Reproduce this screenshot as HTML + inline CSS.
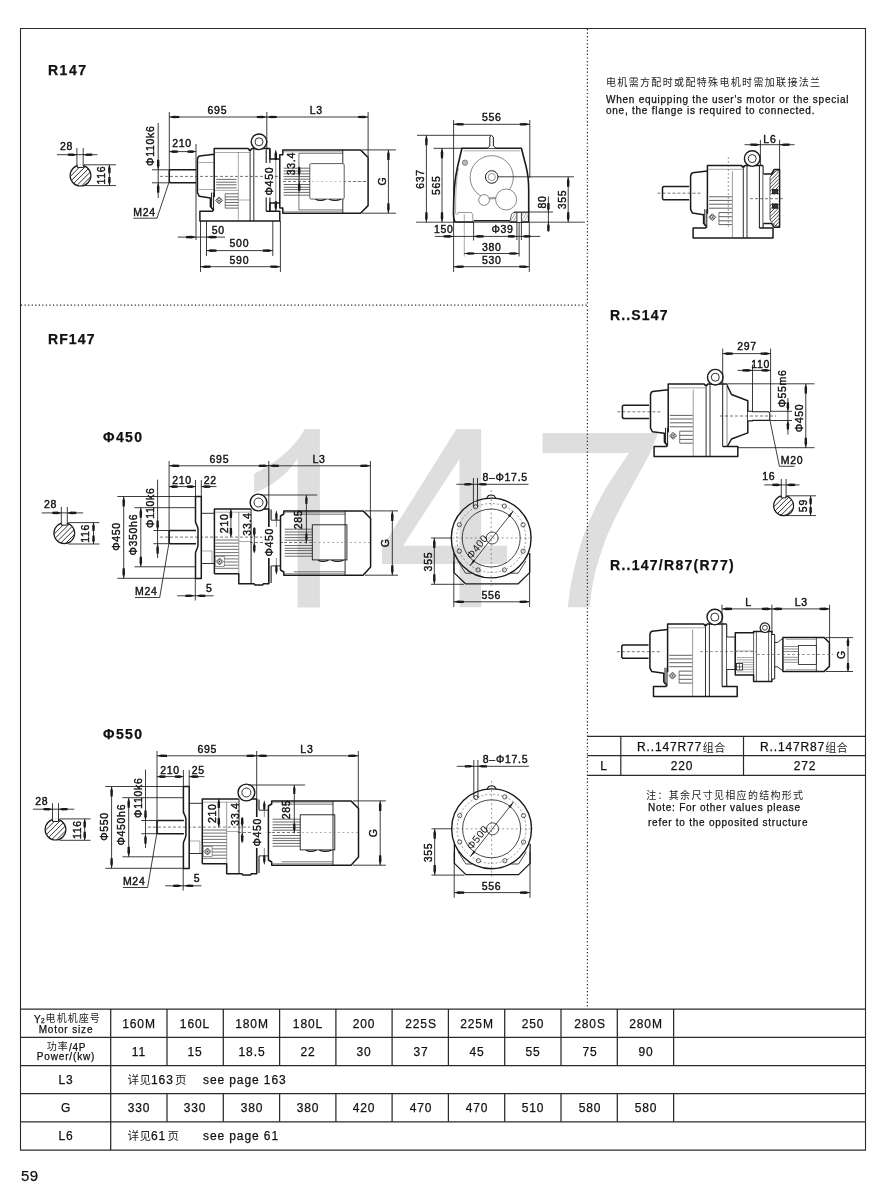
<!DOCTYPE html>
<html><head><meta charset="utf-8"><title>R147</title>
<style>
html,body{margin:0;padding:0;background:#fff;}
body{width:888px;height:1191px;position:relative;overflow:hidden;font-family:"Liberation Sans",sans-serif;color:#111;}
svg{position:absolute;left:0;top:0;will-change:transform;}
svg text{font-family:"Liberation Sans",sans-serif;}
svg text.cj{font-family:"Liberation Sans","Noto Sans CJK SC",sans-serif;}
.t{position:absolute;white-space:nowrap;line-height:1;will-change:transform;-webkit-text-stroke:0.25px #111;}
.h{font-weight:bold;font-size:14px;letter-spacing:0.9px;}
.n{font-size:10px;letter-spacing:0.75px;}
.c{font-size:12px;letter-spacing:0.9px;text-align:center;}
</style></head>
<body>
<svg width="888" height="1191" viewBox="0 0 888 1191">
<path fill="#dedede" d="M297.6,607.5 V458.3 C292,468 278,484 254.1,493.2 V474 C272,464 292,452 304.8,429 H319.9 V607.5 Z"/>
<path fill="#dedede" fill-rule="evenodd" d="M456.5,429 H481.2 V545.7 H507 V564 H481.2 V607.3 H459.5 V564 H382 V547.5 Z M459.5,459 L403,545.7 H459.5 Z"/>
<path fill="#dedede" d="M542.5,433 H657.5 L657.5,434.3 L650,453.6 L640.8,470.4 L631.5,487.2 L622.3,504 L613.9,520.8 L606.3,537.5 L600.5,554.3 L595.4,571.1 L592,587.9 L589.5,607.3 L567.7,607.3 L570.2,587.9 L573.6,571.1 L577.8,554.3 L582.8,537.5 L589.5,520.8 L597.1,504 L606.3,487.2 L617.2,470.4 L629,453.1 H542.5 Z"/>
</svg>
<svg width="888" height="1191" viewBox="0 0 888 1191">
<line x1="20.5" y1="28.5" x2="865.5" y2="28.5" stroke="#2a2a2a" stroke-width="1.1"/>
<line x1="20.5" y1="28.0" x2="20.5" y2="1150.0" stroke="#2a2a2a" stroke-width="1.1"/>
<line x1="865.5" y1="28.0" x2="865.5" y2="1150.0" stroke="#2a2a2a" stroke-width="1.1"/>
<line x1="21.0" y1="305.2" x2="587.4" y2="305.2" stroke="#222" stroke-width="1.2" stroke-dasharray="1.2 2.35"/>
<line x1="587.4" y1="29.0" x2="587.4" y2="1008.0" stroke="#222" stroke-width="1.2" stroke-dasharray="1.2 2.35"/>
<line x1="20.0" y1="1009.0" x2="866.0" y2="1009.0" stroke="#2a2a2a" stroke-width="1.25"/>
<line x1="20.0" y1="1037.3" x2="866.0" y2="1037.3" stroke="#2a2a2a" stroke-width="1.25"/>
<line x1="20.0" y1="1065.5" x2="866.0" y2="1065.5" stroke="#2a2a2a" stroke-width="1.25"/>
<line x1="20.0" y1="1093.5" x2="866.0" y2="1093.5" stroke="#2a2a2a" stroke-width="1.25"/>
<line x1="20.0" y1="1121.8" x2="866.0" y2="1121.8" stroke="#2a2a2a" stroke-width="1.25"/>
<line x1="20.0" y1="1150.0" x2="866.0" y2="1150.0" stroke="#2a2a2a" stroke-width="1.25"/>
<line x1="110.7" y1="1009.0" x2="110.7" y2="1150.0" stroke="#2a2a2a" stroke-width="1.25"/>
<line x1="167.0" y1="1009.0" x2="167.0" y2="1065.5" stroke="#2a2a2a" stroke-width="1.25"/>
<line x1="167.0" y1="1093.5" x2="167.0" y2="1121.8" stroke="#2a2a2a" stroke-width="1.25"/>
<line x1="223.3" y1="1009.0" x2="223.3" y2="1065.5" stroke="#2a2a2a" stroke-width="1.25"/>
<line x1="223.3" y1="1093.5" x2="223.3" y2="1121.8" stroke="#2a2a2a" stroke-width="1.25"/>
<line x1="279.6" y1="1009.0" x2="279.6" y2="1065.5" stroke="#2a2a2a" stroke-width="1.25"/>
<line x1="279.6" y1="1093.5" x2="279.6" y2="1121.8" stroke="#2a2a2a" stroke-width="1.25"/>
<line x1="335.9" y1="1009.0" x2="335.9" y2="1065.5" stroke="#2a2a2a" stroke-width="1.25"/>
<line x1="335.9" y1="1093.5" x2="335.9" y2="1121.8" stroke="#2a2a2a" stroke-width="1.25"/>
<line x1="392.1" y1="1009.0" x2="392.1" y2="1065.5" stroke="#2a2a2a" stroke-width="1.25"/>
<line x1="392.1" y1="1093.5" x2="392.1" y2="1121.8" stroke="#2a2a2a" stroke-width="1.25"/>
<line x1="448.4" y1="1009.0" x2="448.4" y2="1065.5" stroke="#2a2a2a" stroke-width="1.25"/>
<line x1="448.4" y1="1093.5" x2="448.4" y2="1121.8" stroke="#2a2a2a" stroke-width="1.25"/>
<line x1="504.7" y1="1009.0" x2="504.7" y2="1065.5" stroke="#2a2a2a" stroke-width="1.25"/>
<line x1="504.7" y1="1093.5" x2="504.7" y2="1121.8" stroke="#2a2a2a" stroke-width="1.25"/>
<line x1="561.0" y1="1009.0" x2="561.0" y2="1065.5" stroke="#2a2a2a" stroke-width="1.25"/>
<line x1="561.0" y1="1093.5" x2="561.0" y2="1121.8" stroke="#2a2a2a" stroke-width="1.25"/>
<line x1="617.3" y1="1009.0" x2="617.3" y2="1065.5" stroke="#2a2a2a" stroke-width="1.25"/>
<line x1="617.3" y1="1093.5" x2="617.3" y2="1121.8" stroke="#2a2a2a" stroke-width="1.25"/>
<line x1="673.6" y1="1009.0" x2="673.6" y2="1065.5" stroke="#2a2a2a" stroke-width="1.25"/>
<line x1="673.6" y1="1093.5" x2="673.6" y2="1121.8" stroke="#2a2a2a" stroke-width="1.25"/>
<text class="cj" x="45.6" y="1021.9" font-size="10" letter-spacing="1.05" fill="#222">电机机座号</text>
<text class="cj" x="46.8" y="1050.1" font-size="10" letter-spacing="1.0" fill="#222">功率</text>
<text class="cj" x="127.6" y="1083.8" font-size="11.5" letter-spacing="0.5" fill="#222">详见</text>
<text class="cj" x="175.1" y="1083.8" font-size="11.5" fill="#222">页</text>
<text class="cj" x="127.6" y="1140.1" font-size="11.5" letter-spacing="0.5" fill="#222">详见</text>
<text class="cj" x="167.5" y="1140.1" font-size="11.5" fill="#222">页</text>
<text class="cj" x="606.0" y="86.2" font-size="10" letter-spacing="1.34" fill="#222">电机需方配时或配特殊电机时需加联接法兰</text>
<line x1="587.4" y1="736.3" x2="866.0" y2="736.3" stroke="#2a2a2a" stroke-width="1.2"/>
<line x1="587.4" y1="755.7" x2="866.0" y2="755.7" stroke="#2a2a2a" stroke-width="1.2"/>
<line x1="587.4" y1="775.4" x2="866.0" y2="775.4" stroke="#2a2a2a" stroke-width="1.2"/>
<line x1="620.8" y1="736.3" x2="620.8" y2="775.4" stroke="#2a2a2a" stroke-width="1.2"/>
<line x1="743.5" y1="736.3" x2="743.5" y2="775.4" stroke="#2a2a2a" stroke-width="1.2"/>
<text class="cj" x="702.7" y="751.5" font-size="11" letter-spacing="0.5" fill="#222">组合</text>
<text class="cj" x="825.3" y="751.5" font-size="11" letter-spacing="0.5" fill="#222">组合</text>
<text class="cj" x="646.2" y="799.0" font-size="10" letter-spacing="1.3" fill="#222">注：其余尺寸见相应的结构形式</text>
<clipPath id="c80_175"><circle cx="80.5" cy="175.6" r="10.4"/></clipPath>
<g clip-path="url(#c80_175)" stroke="#1a1a1a" stroke-width="0.9"><line x1="50.3" y1="186.0" x2="71.1" y2="165.2"/><line x1="55.5" y1="186.0" x2="76.3" y2="165.2"/><line x1="60.7" y1="186.0" x2="81.5" y2="165.2"/><line x1="65.9" y1="186.0" x2="86.7" y2="165.2"/><line x1="71.1" y1="186.0" x2="91.9" y2="165.2"/><line x1="76.3" y1="186.0" x2="97.1" y2="165.2"/><line x1="81.5" y1="186.0" x2="102.3" y2="165.2"/><line x1="86.7" y1="186.0" x2="107.5" y2="165.2"/></g>
<circle cx="80.5" cy="175.6" r="10.4" fill="none" stroke="#1a1a1a" stroke-width="1.2"/>
<rect x="77.3" y="164.2" width="6.3" height="3.2" fill="#fff"/>
<path d="M77.3,165.5 L77.3,167.4 L83.7,167.4 L83.7,165.5" fill="none" stroke="#1a1a1a" stroke-width="1.0" stroke-linejoin="round"/>
<line x1="76.9" y1="148.0" x2="76.9" y2="166.0" stroke="#1a1a1a" stroke-width="0.85"/>
<line x1="83.2" y1="148.0" x2="83.2" y2="166.0" stroke="#1a1a1a" stroke-width="0.85"/>
<line x1="57.0" y1="154.7" x2="97.4" y2="154.7" stroke="#1a1a1a" stroke-width="0.85"/>
<polygon points="76.9,154.7 73.1,153.4 67.9,153.6 67.9,155.8 73.1,156.0" fill="#1a1a1a"/>
<polygon points="83.2,154.7 87.0,153.4 92.2,153.6 92.2,155.8 87.0,156.0" fill="#1a1a1a"/>
<text x="66.5" y="150.3" font-size="10.5" text-anchor="middle" letter-spacing="0.7" fill="#111" stroke="#111" stroke-width="0.4">28</text>
<line x1="84.0" y1="164.8" x2="116.0" y2="164.8" stroke="#1a1a1a" stroke-width="0.85"/>
<line x1="84.0" y1="185.6" x2="116.0" y2="185.6" stroke="#1a1a1a" stroke-width="0.85"/>
<line x1="109.4" y1="164.8" x2="109.4" y2="185.6" stroke="#1a1a1a" stroke-width="0.85"/>
<polygon points="109.4,164.8 108.1,168.4 108.3,173.3 110.5,173.3 110.7,168.4" fill="#1a1a1a"/>
<polygon points="109.4,185.6 108.1,182.0 108.3,177.1 110.5,177.1 110.7,182.0" fill="#1a1a1a"/>
<text x="105.3" y="175.0" font-size="10.5" text-anchor="middle" letter-spacing="0.7" fill="#111" stroke="#111" stroke-width="0.4" transform="rotate(-90 105.3 175.0)">116</text>
<line x1="169.3" y1="112.0" x2="169.3" y2="183.0" stroke="#1a1a1a" stroke-width="0.85"/>
<line x1="266.8" y1="112.0" x2="266.8" y2="150.0" stroke="#1a1a1a" stroke-width="0.85"/>
<line x1="368.1" y1="112.0" x2="368.1" y2="157.0" stroke="#1a1a1a" stroke-width="0.85"/>
<line x1="169.3" y1="117.0" x2="266.8" y2="117.0" stroke="#1a1a1a" stroke-width="0.85"/>
<polygon points="169.3,117.0 173.5,115.7 179.3,115.9 179.3,118.1 173.5,118.3" fill="#1a1a1a"/>
<polygon points="266.8,117.0 262.6,115.7 256.8,115.9 256.8,118.1 262.6,118.3" fill="#1a1a1a"/>
<line x1="266.8" y1="117.0" x2="368.1" y2="117.0" stroke="#1a1a1a" stroke-width="0.85"/>
<polygon points="266.8,117.0 271.0,115.7 276.8,115.9 276.8,118.1 271.0,118.3" fill="#1a1a1a"/>
<polygon points="368.1,117.0 363.9,115.7 358.1,115.9 358.1,118.1 363.9,118.3" fill="#1a1a1a"/>
<text x="217.4" y="113.6" font-size="10.5" text-anchor="middle" letter-spacing="0.7" fill="#111" stroke="#111" stroke-width="0.4">695</text>
<text x="316.3" y="113.6" font-size="10.5" text-anchor="middle" letter-spacing="0.7" fill="#111" stroke="#111" stroke-width="0.4">L3</text>
<line x1="196.0" y1="144.0" x2="196.0" y2="240.0" stroke="#1a1a1a" stroke-width="0.85"/>
<line x1="169.3" y1="151.6" x2="196.0" y2="151.6" stroke="#1a1a1a" stroke-width="0.85"/>
<polygon points="169.3,151.6 172.9,150.3 177.8,150.5 177.8,152.7 172.9,152.9" fill="#1a1a1a"/>
<polygon points="196.0,151.6 192.4,150.3 187.5,150.5 187.5,152.7 192.4,152.9" fill="#1a1a1a"/>
<text x="182.0" y="146.6" font-size="10.5" text-anchor="middle" letter-spacing="0.7" fill="#111" stroke="#111" stroke-width="0.4">210</text>
<path d="M196.0,169.8 L170.3,169.8 L169.3,170.8 L169.3,181.8 L170.3,182.8 L196.0,182.8" fill="none" stroke="#1a1a1a" stroke-width="1.5" stroke-linejoin="round"/>
<line x1="160.0" y1="176.4" x2="284.0" y2="176.4" stroke="#1a1a1a" stroke-width="0.6" stroke-dasharray="3 2"/>
<line x1="152.0" y1="169.8" x2="169.3" y2="169.8" stroke="#1a1a1a" stroke-width="0.85"/>
<line x1="152.0" y1="182.8" x2="169.3" y2="182.8" stroke="#1a1a1a" stroke-width="0.85"/>
<line x1="158.2" y1="123.0" x2="158.2" y2="198.0" stroke="#1a1a1a" stroke-width="0.85"/>
<polygon points="158.2,169.8 156.9,165.6 157.1,159.8 159.3,159.8 159.5,165.6" fill="#1a1a1a"/>
<polygon points="158.2,182.8 156.9,187.0 157.1,192.8 159.3,192.8 159.5,187.0" fill="#1a1a1a"/>
<text x="154.2" y="145.7" font-size="10.5" text-anchor="middle" letter-spacing="0.7" fill="#111" stroke="#111" stroke-width="0.4" transform="rotate(-90 154.2 145.7)">&#934;110k6</text>
<text x="133.3" y="216.2" font-size="10.5" text-anchor="start" letter-spacing="0.7" fill="#111" stroke="#111" stroke-width="0.4">M24</text>
<path d="M133.3,218.2 L157.0,218.2 L168.9,182.5" fill="none" stroke="#1a1a1a" stroke-width="0.85" stroke-linejoin="round"/>
<path d="M214.2,154.3 L199.5,156 Q197.6,156.5 197.4,159.7 L197.4,192.6 L199.3,196.3 L210.4,197.9 L210.4,206.7 L212.9,209 L212.9,211.2" fill="none" stroke="#1a1a1a" stroke-width="1.5" stroke-linejoin="round"/>
<path d="M214.2,197 L214.2,148.6 L248.2,148.6 L249.4,150.2 L250.6,150.2 L251.9,148.6 L269.9,148.6 L269.9,159.1 L279.8,159.1" fill="none" stroke="#1a1a1a" stroke-width="1.5" stroke-linejoin="round"/>
<circle cx="259.0" cy="141.8" r="7.8" fill="#fff" stroke="#1a1a1a" stroke-width="1.4"/>
<circle cx="259.0" cy="141.8" r="4.0" fill="none" stroke="#1a1a1a" stroke-width="0.9"/>
<line x1="250.1" y1="148.6" x2="250.1" y2="221.0" stroke="#1a1a1a" stroke-width="0.9"/>
<line x1="253.8" y1="148.6" x2="253.8" y2="221.0" stroke="#1a1a1a" stroke-width="0.9"/>
<line x1="238.3" y1="152.0" x2="238.3" y2="220.5" stroke="#555" stroke-width="0.5"/>
<line x1="214.2" y1="152.5" x2="249.5" y2="152.5" stroke="#555" stroke-width="0.5"/>
<line x1="266.2" y1="150.0" x2="266.2" y2="163.0" stroke="#1a1a1a" stroke-width="1.1"/>
<line x1="266.2" y1="197.5" x2="266.2" y2="211.2" stroke="#1a1a1a" stroke-width="1.1"/>
<line x1="269.9" y1="150.0" x2="269.9" y2="163.0" stroke="#1a1a1a" stroke-width="1.1"/>
<line x1="269.9" y1="197.5" x2="269.9" y2="211.2" stroke="#1a1a1a" stroke-width="1.1"/>
<path d="M269.9,211.2 L269.9,203.1 L279.8,203.1" fill="none" stroke="#1a1a1a" stroke-width="1.5" stroke-linejoin="round"/>
<path d="M212.9,211.2 L199.9,211.2 L199.9,221.1 L279.8,221.1 L279.8,211.2 L266.2,211.2" fill="none" stroke="#1a1a1a" stroke-width="1.5" stroke-linejoin="round"/>
<line x1="211.6" y1="192.5" x2="211.6" y2="209.0" stroke="#1a1a1a" stroke-width="1.0"/>
<line x1="213.6" y1="192.5" x2="213.6" y2="211.0" stroke="#1a1a1a" stroke-width="1.0"/>
<line x1="216.2" y1="179.4" x2="236.5" y2="179.4" stroke="#444" stroke-width="0.8"/>
<line x1="216.2" y1="182.2" x2="236.5" y2="182.2" stroke="#444" stroke-width="0.8"/>
<line x1="216.2" y1="184.8" x2="236.5" y2="184.8" stroke="#444" stroke-width="0.8"/>
<line x1="216.2" y1="187.9" x2="236.5" y2="187.9" stroke="#444" stroke-width="0.8"/>
<line x1="225.2" y1="193.8" x2="225.2" y2="208.1" stroke="#444" stroke-width="0.7"/>
<line x1="225.2" y1="193.8" x2="238.3" y2="193.8" stroke="#444" stroke-width="0.8"/>
<line x1="225.2" y1="196.9" x2="238.3" y2="196.9" stroke="#444" stroke-width="0.8"/>
<line x1="225.2" y1="199.7" x2="238.3" y2="199.7" stroke="#444" stroke-width="0.8"/>
<line x1="225.2" y1="202.5" x2="238.3" y2="202.5" stroke="#444" stroke-width="0.8"/>
<line x1="225.2" y1="205.3" x2="238.3" y2="205.3" stroke="#444" stroke-width="0.8"/>
<line x1="225.2" y1="208.1" x2="238.3" y2="208.1" stroke="#444" stroke-width="0.8"/>
<line x1="215.0" y1="190.4" x2="238.0" y2="190.4" stroke="#555" stroke-width="0.5"/>
<line x1="238.3" y1="200.0" x2="250.0" y2="200.0" stroke="#555" stroke-width="0.5"/>
<path d="M215.6,200.4 L219.1,196.9 L222.6,200.4 L219.1,203.9 Z" fill="none" stroke="#1a1a1a" stroke-width="0.7" stroke-linejoin="round"/>
<circle cx="219.1" cy="200.4" r="1.9" fill="none" stroke="#1a1a1a" stroke-width="0.6"/>
<circle cx="219.1" cy="200.4" r="0.5" fill="#333" stroke="#1a1a1a" stroke-width="0.5"/>
<path d="M279.8,154.8 L282.8,154.8 L282.8,149.9 L360.5,149.9 L368.1,157.5 L368.1,205.6 L360.5,213.2 L282.8,213.2 L282.8,208.0 L279.8,208.0 Z" fill="#fff" stroke="#1a1a1a" stroke-width="1.5" stroke-linejoin="round"/>
<line x1="342.8" y1="149.9" x2="342.8" y2="213.2" stroke="#1a1a1a" stroke-width="0.9"/>
<line x1="298.9" y1="153.3" x2="342.8" y2="153.3" stroke="#1a1a1a" stroke-width="0.6"/>
<line x1="298.9" y1="209.9" x2="342.8" y2="209.9" stroke="#1a1a1a" stroke-width="0.6"/>
<line x1="298.9" y1="153.3" x2="298.9" y2="209.9" stroke="#1a1a1a" stroke-width="0.6"/>
<line x1="283.0" y1="151.8" x2="342.8" y2="151.8" stroke="#555" stroke-width="0.5"/>
<line x1="283.0" y1="211.4" x2="342.8" y2="211.4" stroke="#555" stroke-width="0.5"/>
<line x1="283.6" y1="168.2" x2="309.8" y2="168.2" stroke="#444" stroke-width="0.8"/>
<line x1="283.6" y1="171.0" x2="309.8" y2="171.0" stroke="#444" stroke-width="0.8"/>
<line x1="283.6" y1="173.8" x2="309.8" y2="173.8" stroke="#444" stroke-width="0.8"/>
<line x1="283.6" y1="176.6" x2="309.8" y2="176.6" stroke="#444" stroke-width="0.8"/>
<line x1="283.6" y1="179.2" x2="309.8" y2="179.2" stroke="#444" stroke-width="0.8"/>
<line x1="283.6" y1="184.5" x2="309.8" y2="184.5" stroke="#444" stroke-width="0.8"/>
<line x1="283.6" y1="187.3" x2="309.8" y2="187.3" stroke="#444" stroke-width="0.8"/>
<line x1="283.6" y1="189.6" x2="309.8" y2="189.6" stroke="#444" stroke-width="0.8"/>
<line x1="283.6" y1="192.4" x2="309.8" y2="192.4" stroke="#444" stroke-width="0.8"/>
<line x1="283.6" y1="195.2" x2="309.8" y2="195.2" stroke="#444" stroke-width="0.8"/>
<path d="M315.5,199.3 Q320,201.6 326,199.3 M329,199.3 Q335,201.6 341,199.3" fill="none" stroke="#1a1a1a" stroke-width="1.1" stroke-linejoin="round"/>
<line x1="198.8" y1="162.5" x2="214.0" y2="162.5" stroke="#555" stroke-width="0.5"/>
<line x1="198.8" y1="189.5" x2="214.0" y2="189.5" stroke="#555" stroke-width="0.5"/>
<line x1="283.0" y1="181.5" x2="366.0" y2="181.5" stroke="#1a1a1a" stroke-width="0.6" stroke-dasharray="3 2"/>
<rect x="309.8" y="163.6" width="34.4" height="35.5" rx="1.5" fill="#fff" stroke="#333" stroke-width="0.8"/>
<line x1="312.0" y1="181.5" x2="366.0" y2="181.5" stroke="#888" stroke-width="0.5" stroke-dasharray="2 2.5"/>
<text x="294.8" y="163.6" font-size="10.5" text-anchor="middle" letter-spacing="0.7" fill="#111" stroke="#111" stroke-width="0.4" transform="rotate(-90 294.8 163.6)">33.4</text>
<line x1="299.2" y1="166.5" x2="299.2" y2="192.0" stroke="#1a1a1a" stroke-width="0.6"/>
<polygon points="299.2,176.2 297.9,172.4 298.1,167.2 300.3,167.2 300.5,172.4" fill="#1a1a1a"/>
<polygon points="299.2,181.7 297.9,185.5 298.1,190.7 300.3,190.7 300.5,185.5" fill="#1a1a1a"/>
<line x1="275.8" y1="149.9" x2="275.8" y2="211.2" stroke="#1a1a1a" stroke-width="0.5"/>
<polygon points="275.8,149.9 274.5,154.1 274.7,159.9 276.9,159.9 277.1,154.1" fill="#1a1a1a"/>
<polygon points="275.8,211.2 274.5,207.0 274.7,201.2 276.9,201.2 277.1,207.0" fill="#1a1a1a"/>
<rect x="264.5" y="166" width="9.5" height="30" fill="#fff"/>
<text x="272.8" y="181.1" font-size="10.5" text-anchor="middle" letter-spacing="0.7" fill="#111" stroke="#111" stroke-width="0.4" transform="rotate(-90 272.8 181.1)">&#934;450</text>
<line x1="362.0" y1="149.9" x2="396.0" y2="149.9" stroke="#1a1a1a" stroke-width="0.85"/>
<line x1="362.0" y1="213.2" x2="396.0" y2="213.2" stroke="#1a1a1a" stroke-width="0.85"/>
<line x1="388.4" y1="149.9" x2="388.4" y2="213.2" stroke="#1a1a1a" stroke-width="0.85"/>
<polygon points="388.4,149.9 387.1,154.1 387.3,159.9 389.5,159.9 389.7,154.1" fill="#1a1a1a"/>
<polygon points="388.4,213.2 387.1,209.0 387.3,203.2 389.5,203.2 389.7,209.0" fill="#1a1a1a"/>
<text x="385.7" y="181.1" font-size="10.5" text-anchor="middle" letter-spacing="0.7" fill="#111" stroke="#111" stroke-width="0.4" transform="rotate(-90 385.7 181.1)">G</text>
<line x1="206.5" y1="221.0" x2="206.5" y2="256.0" stroke="#1a1a1a" stroke-width="0.85"/>
<line x1="272.8" y1="221.0" x2="272.8" y2="256.0" stroke="#1a1a1a" stroke-width="0.85"/>
<line x1="200.5" y1="221.0" x2="200.5" y2="272.0" stroke="#1a1a1a" stroke-width="0.85"/>
<line x1="280.4" y1="221.0" x2="280.4" y2="272.0" stroke="#1a1a1a" stroke-width="0.85"/>
<line x1="177.7" y1="237.1" x2="225.0" y2="237.1" stroke="#1a1a1a" stroke-width="0.85"/>
<polygon points="196.0,237.1 191.8,235.8 186.0,236.0 186.0,238.2 191.8,238.4" fill="#1a1a1a"/>
<polygon points="206.5,237.1 210.7,235.8 216.5,236.0 216.5,238.2 210.7,238.4" fill="#1a1a1a"/>
<text x="218.3" y="234.0" font-size="10.5" text-anchor="middle" letter-spacing="0.7" fill="#111" stroke="#111" stroke-width="0.4">50</text>
<line x1="206.5" y1="250.6" x2="272.8" y2="250.6" stroke="#1a1a1a" stroke-width="0.85"/>
<polygon points="206.5,250.6 210.7,249.3 216.5,249.5 216.5,251.7 210.7,251.9" fill="#1a1a1a"/>
<polygon points="272.8,250.6 268.6,249.3 262.8,249.5 262.8,251.7 268.6,251.9" fill="#1a1a1a"/>
<text x="239.4" y="247.2" font-size="10.5" text-anchor="middle" letter-spacing="0.7" fill="#111" stroke="#111" stroke-width="0.4">500</text>
<line x1="200.5" y1="266.7" x2="280.4" y2="266.7" stroke="#1a1a1a" stroke-width="0.85"/>
<polygon points="200.5,266.7 204.7,265.4 210.5,265.6 210.5,267.8 204.7,268.0" fill="#1a1a1a"/>
<polygon points="280.4,266.7 276.2,265.4 270.4,265.6 270.4,267.8 276.2,268.0" fill="#1a1a1a"/>
<text x="239.4" y="263.6" font-size="10.5" text-anchor="middle" letter-spacing="0.7" fill="#111" stroke="#111" stroke-width="0.4">590</text>
<line x1="453.6" y1="120.0" x2="453.6" y2="272.0" stroke="#1a1a1a" stroke-width="0.85"/>
<line x1="529.8" y1="120.0" x2="529.8" y2="178.0" stroke="#1a1a1a" stroke-width="0.85"/>
<line x1="529.3" y1="222.0" x2="529.3" y2="272.0" stroke="#1a1a1a" stroke-width="0.85"/>
<line x1="453.6" y1="124.3" x2="529.8" y2="124.3" stroke="#1a1a1a" stroke-width="0.85"/>
<polygon points="453.6,124.3 457.8,123.0 463.6,123.2 463.6,125.4 457.8,125.6" fill="#1a1a1a"/>
<polygon points="529.8,124.3 525.6,123.0 519.8,123.2 519.8,125.4 525.6,125.6" fill="#1a1a1a"/>
<text x="491.7" y="120.7" font-size="10.5" text-anchor="middle" letter-spacing="0.7" fill="#111" stroke="#111" stroke-width="0.4">556</text>
<line x1="417.0" y1="135.3" x2="491.0" y2="135.3" stroke="#1a1a1a" stroke-width="0.85"/>
<line x1="433.5" y1="148.3" x2="462.0" y2="148.3" stroke="#1a1a1a" stroke-width="0.85"/>
<line x1="416.0" y1="222.2" x2="585.0" y2="222.2" stroke="#1a1a1a" stroke-width="0.8"/>
<line x1="426.4" y1="135.3" x2="426.4" y2="222.2" stroke="#1a1a1a" stroke-width="0.85"/>
<polygon points="426.4,135.3 425.1,139.5 425.3,145.3 427.5,145.3 427.7,139.5" fill="#1a1a1a"/>
<polygon points="426.4,222.2 425.1,218.0 425.3,212.2 427.5,212.2 427.7,218.0" fill="#1a1a1a"/>
<text x="423.8" y="179.0" font-size="10.5" text-anchor="middle" letter-spacing="0.7" fill="#111" stroke="#111" stroke-width="0.4" transform="rotate(-90 423.8 179.0)">637</text>
<line x1="442.0" y1="148.3" x2="442.0" y2="222.2" stroke="#1a1a1a" stroke-width="0.85"/>
<polygon points="442.0,148.3 440.7,152.5 440.9,158.3 443.1,158.3 443.3,152.5" fill="#1a1a1a"/>
<polygon points="442.0,222.2 440.7,218.0 440.9,212.2 443.1,212.2 443.3,218.0" fill="#1a1a1a"/>
<text x="440.0" y="185.3" font-size="10.5" text-anchor="middle" letter-spacing="0.7" fill="#111" stroke="#111" stroke-width="0.4" transform="rotate(-90 440.0 185.3)">565</text>
<path d="M454.9,222 C453.4,219 453.4,216 453.5,212 C453.5,196 454.5,180 457.5,167 L461.9,148.3 L521.4,148.3 L526.2,167 C528.4,176 528.7,180 528.7,190 L528.7,222" fill="none" stroke="#1a1a1a" stroke-width="1.6" stroke-linejoin="round"/>
<line x1="473.6" y1="220.8" x2="509.7" y2="220.8" stroke="#1a1a1a" stroke-width="1.4"/>
<line x1="454.9" y1="222.0" x2="473.6" y2="222.0" stroke="#1a1a1a" stroke-width="1.4"/>
<line x1="509.7" y1="222.0" x2="528.7" y2="222.0" stroke="#1a1a1a" stroke-width="1.4"/>
<line x1="463.2" y1="150.8" x2="520.2" y2="150.8" stroke="#555" stroke-width="0.5"/>
<path d="M458.5,168 C456,180 455.6,196 455.6,214" fill="none" stroke="#555" stroke-width="0.5" stroke-linejoin="round"/>
<path d="M487.2,148.3 L489.8,146 L489.8,137 Q491.6,134 493.4,137 L493.4,146 L496.2,148.3" fill="#fff" stroke="#1a1a1a" stroke-width="1.0" stroke-linejoin="round"/>
<circle cx="491.7" cy="177.3" r="21.6" fill="none" stroke="#555" stroke-width="0.7"/>
<circle cx="491.7" cy="177.0" r="6.3" fill="none" stroke="#1a1a1a" stroke-width="1.0"/>
<circle cx="491.7" cy="177.0" r="3.6" fill="none" stroke="#555" stroke-width="0.6"/>
<circle cx="484.1" cy="200.0" r="5.4" fill="#fff" stroke="#555" stroke-width="0.7"/>
<circle cx="506.1" cy="199.5" r="10.5" fill="#fff" stroke="#555" stroke-width="0.7"/>
<line x1="489.5" y1="197.6" x2="495.6" y2="197.6" stroke="#555" stroke-width="0.6"/>
<circle cx="465.0" cy="162.7" r="2.7" fill="#bbb" stroke="#555" stroke-width="0.6"/>
<path d="M456.7,215.0 L458.0,212.5 L471.5,212.5 L472.8,215.0 L472.8,222.0" fill="none" stroke="#555" stroke-width="0.6" stroke-linejoin="round"/>
<line x1="464.3" y1="214.0" x2="464.3" y2="256.5" stroke="#555" stroke-width="0.5"/>
<path d="M509.7,222.0 L511.5,214.5 L513.0,212.6 L528.6,212.6" fill="none" stroke="#1a1a1a" stroke-width="0.7" stroke-linejoin="round"/>
<line x1="510.5" y1="221.5" x2="515.0" y2="213.2" stroke="#555" stroke-width="0.5"/>
<line x1="513.3" y1="221.5" x2="517.8" y2="213.2" stroke="#555" stroke-width="0.5"/>
<line x1="516.1" y1="221.5" x2="520.6" y2="213.2" stroke="#555" stroke-width="0.5"/>
<line x1="518.9" y1="221.5" x2="523.4" y2="213.2" stroke="#555" stroke-width="0.5"/>
<line x1="521.7" y1="221.5" x2="526.2" y2="213.2" stroke="#555" stroke-width="0.5"/>
<line x1="524.5" y1="221.5" x2="529.0" y2="213.2" stroke="#555" stroke-width="0.5"/>
<rect x="516.9" y="213" width="4.5" height="9" fill="#fff"/>
<line x1="516.9" y1="213.0" x2="516.9" y2="240.0" stroke="#1a1a1a" stroke-width="0.85"/>
<line x1="521.4" y1="213.0" x2="521.4" y2="240.0" stroke="#1a1a1a" stroke-width="0.85"/>
<line x1="498.0" y1="176.8" x2="574.0" y2="176.8" stroke="#1a1a1a" stroke-width="0.85"/>
<line x1="568.2" y1="176.8" x2="568.2" y2="222.2" stroke="#1a1a1a" stroke-width="0.85"/>
<polygon points="568.2,176.8 566.9,181.0 567.1,186.8 569.3,186.8 569.5,181.0" fill="#1a1a1a"/>
<polygon points="568.2,222.2 566.9,218.0 567.1,212.2 569.3,212.2 569.5,218.0" fill="#1a1a1a"/>
<text x="565.6" y="199.5" font-size="10.5" text-anchor="middle" letter-spacing="0.7" fill="#111" stroke="#111" stroke-width="0.4" transform="rotate(-90 565.6 199.5)">355</text>
<line x1="514.0" y1="212.0" x2="553.0" y2="212.0" stroke="#1a1a1a" stroke-width="0.85"/>
<line x1="548.4" y1="196.4" x2="548.4" y2="231.5" stroke="#1a1a1a" stroke-width="0.85"/>
<polygon points="548.4,212.0 547.1,208.2 547.3,203.0 549.5,203.0 549.7,208.2" fill="#1a1a1a"/>
<polygon points="548.4,222.2 547.1,226.0 547.3,231.2 549.5,231.2 549.7,226.0" fill="#1a1a1a"/>
<text x="546.1" y="202.0" font-size="10.5" text-anchor="middle" letter-spacing="0.7" fill="#111" stroke="#111" stroke-width="0.4" transform="rotate(-90 546.1 202.0)">80</text>
<line x1="434.9" y1="236.4" x2="540.3" y2="236.4" stroke="#1a1a1a" stroke-width="0.85"/>
<polygon points="453.6,236.4 449.4,235.1 443.6,235.3 443.6,237.5 449.4,237.7" fill="#1a1a1a"/>
<polygon points="473.6,236.4 477.8,235.1 483.6,235.3 483.6,237.5 477.8,237.7" fill="#1a1a1a"/>
<line x1="473.6" y1="222.0" x2="473.6" y2="240.5" stroke="#1a1a1a" stroke-width="0.85"/>
<text x="443.7" y="233.3" font-size="10.5" text-anchor="middle" letter-spacing="0.7" fill="#111" stroke="#111" stroke-width="0.4">150</text>
<polygon points="516.9,236.4 513.1,235.1 507.9,235.3 507.9,237.5 513.1,237.7" fill="#1a1a1a"/>
<polygon points="521.4,236.4 525.2,235.1 530.4,235.3 530.4,237.5 525.2,237.7" fill="#1a1a1a"/>
<text x="502.5" y="232.5" font-size="10.5" text-anchor="middle" letter-spacing="0.7" fill="#111" stroke="#111" stroke-width="0.4">&#934;39</text>
<line x1="519.1" y1="222.0" x2="519.1" y2="256.5" stroke="#1a1a1a" stroke-width="0.85"/>
<line x1="464.3" y1="253.5" x2="519.1" y2="253.5" stroke="#1a1a1a" stroke-width="0.85"/>
<polygon points="464.3,253.5 468.5,252.2 474.3,252.4 474.3,254.6 468.5,254.8" fill="#1a1a1a"/>
<polygon points="519.1,253.5 514.9,252.2 509.1,252.4 509.1,254.6 514.9,254.8" fill="#1a1a1a"/>
<text x="491.7" y="250.5" font-size="10.5" text-anchor="middle" letter-spacing="0.7" fill="#111" stroke="#111" stroke-width="0.4">380</text>
<line x1="453.6" y1="266.7" x2="529.3" y2="266.7" stroke="#1a1a1a" stroke-width="0.85"/>
<polygon points="453.6,266.7 457.8,265.4 463.6,265.6 463.6,267.8 457.8,268.0" fill="#1a1a1a"/>
<polygon points="529.3,266.7 525.1,265.4 519.3,265.6 519.3,267.8 525.1,268.0" fill="#1a1a1a"/>
<text x="491.7" y="264.3" font-size="10.5" text-anchor="middle" letter-spacing="0.7" fill="#111" stroke="#111" stroke-width="0.4">530</text>
<clipPath id="c64_533"><circle cx="64.3" cy="533.3" r="10.4"/></clipPath>
<g clip-path="url(#c64_533)" stroke="#1a1a1a" stroke-width="0.9"><line x1="34.1" y1="543.7" x2="54.9" y2="522.9"/><line x1="39.3" y1="543.7" x2="60.1" y2="522.9"/><line x1="44.5" y1="543.7" x2="65.3" y2="522.9"/><line x1="49.7" y1="543.7" x2="70.5" y2="522.9"/><line x1="54.9" y1="543.7" x2="75.7" y2="522.9"/><line x1="60.1" y1="543.7" x2="80.9" y2="522.9"/><line x1="65.3" y1="543.7" x2="86.1" y2="522.9"/><line x1="70.5" y1="543.7" x2="91.3" y2="522.9"/></g>
<circle cx="64.3" cy="533.3" r="10.4" fill="none" stroke="#1a1a1a" stroke-width="1.2"/>
<rect x="61.3" y="521.9" width="6.0" height="3.2" fill="#fff"/>
<path d="M61.3,523.2 L61.3,525.1 L67.3,525.1 L67.3,523.2" fill="none" stroke="#1a1a1a" stroke-width="1.0" stroke-linejoin="round"/>
<line x1="61.3" y1="506.9" x2="61.3" y2="523.8" stroke="#1a1a1a" stroke-width="0.85"/>
<line x1="67.3" y1="506.9" x2="67.3" y2="523.8" stroke="#1a1a1a" stroke-width="0.85"/>
<line x1="41.7" y1="512.9" x2="83.1" y2="512.9" stroke="#1a1a1a" stroke-width="0.85"/>
<polygon points="61.3,512.9 57.5,511.6 52.3,511.8 52.3,514.0 57.5,514.2" fill="#1a1a1a"/>
<polygon points="67.3,512.9 71.1,511.6 76.3,511.8 76.3,514.0 71.1,514.2" fill="#1a1a1a"/>
<text x="50.6" y="508.4" font-size="10.5" text-anchor="middle" letter-spacing="0.7" fill="#111" stroke="#111" stroke-width="0.4">28</text>
<line x1="68.3" y1="522.6" x2="99.3" y2="522.6" stroke="#1a1a1a" stroke-width="0.85"/>
<line x1="68.3" y1="544.0" x2="99.3" y2="544.0" stroke="#1a1a1a" stroke-width="0.85"/>
<line x1="93.5" y1="522.6" x2="93.5" y2="544.0" stroke="#1a1a1a" stroke-width="0.85"/>
<polygon points="93.5,522.6 92.2,526.2 92.4,531.1 94.6,531.1 94.8,526.2" fill="#1a1a1a"/>
<polygon points="93.5,544.0 92.2,540.4 92.4,535.5 94.6,535.5 94.8,540.4" fill="#1a1a1a"/>
<text x="89.4" y="533.3" font-size="10.5" text-anchor="middle" letter-spacing="0.7" fill="#111" stroke="#111" stroke-width="0.4" transform="rotate(-90 89.4 533.3)">116</text>
<line x1="169.1" y1="461.0" x2="169.1" y2="544.0" stroke="#1a1a1a" stroke-width="0.85"/>
<line x1="268.8" y1="461.0" x2="268.8" y2="584.0" stroke="#1a1a1a" stroke-width="0.85"/>
<line x1="370.4" y1="461.0" x2="370.4" y2="518.0" stroke="#1a1a1a" stroke-width="0.85"/>
<line x1="169.1" y1="465.8" x2="268.8" y2="465.8" stroke="#1a1a1a" stroke-width="0.85"/>
<polygon points="169.1,465.8 173.3,464.5 179.1,464.7 179.1,466.9 173.3,467.1" fill="#1a1a1a"/>
<polygon points="268.8,465.8 264.6,464.5 258.8,464.7 258.8,466.9 264.6,467.1" fill="#1a1a1a"/>
<line x1="268.8" y1="465.8" x2="370.4" y2="465.8" stroke="#1a1a1a" stroke-width="0.85"/>
<polygon points="268.8,465.8 273.0,464.5 278.8,464.7 278.8,466.9 273.0,467.1" fill="#1a1a1a"/>
<polygon points="370.4,465.8 366.2,464.5 360.4,464.7 360.4,466.9 366.2,467.1" fill="#1a1a1a"/>
<text x="219.4" y="462.9" font-size="10.5" text-anchor="middle" letter-spacing="0.7" fill="#111" stroke="#111" stroke-width="0.4">695</text>
<text x="319.0" y="462.9" font-size="10.5" text-anchor="middle" letter-spacing="0.7" fill="#111" stroke="#111" stroke-width="0.4">L3</text>
<line x1="195.5" y1="480.0" x2="195.5" y2="497.0" stroke="#1a1a1a" stroke-width="0.85"/>
<line x1="201.3" y1="480.0" x2="201.3" y2="497.0" stroke="#1a1a1a" stroke-width="0.85"/>
<line x1="169.1" y1="486.6" x2="195.5" y2="486.6" stroke="#1a1a1a" stroke-width="0.85"/>
<polygon points="169.1,486.6 172.7,485.3 177.6,485.5 177.6,487.7 172.7,487.9" fill="#1a1a1a"/>
<polygon points="195.5,486.6 191.9,485.3 187.0,485.5 187.0,487.7 191.9,487.9" fill="#1a1a1a"/>
<line x1="201.3" y1="486.6" x2="216.5" y2="486.6" stroke="#1a1a1a" stroke-width="0.85"/>
<polygon points="201.3,486.6 205.1,485.3 210.3,485.5 210.3,487.7 205.1,487.9" fill="#1a1a1a"/>
<text x="182.1" y="484.2" font-size="10.5" text-anchor="middle" letter-spacing="0.7" fill="#111" stroke="#111" stroke-width="0.4">210</text>
<text x="210.3" y="484.2" font-size="10.5" text-anchor="middle" letter-spacing="0.7" fill="#111" stroke="#111" stroke-width="0.4">22</text>
<line x1="117.4" y1="496.5" x2="195.5" y2="496.5" stroke="#1a1a1a" stroke-width="0.85"/>
<line x1="117.4" y1="578.3" x2="195.5" y2="578.3" stroke="#1a1a1a" stroke-width="0.85"/>
<line x1="123.7" y1="496.5" x2="123.7" y2="578.3" stroke="#1a1a1a" stroke-width="0.85"/>
<polygon points="123.7,496.5 122.4,500.7 122.6,506.5 124.8,506.5 125.0,500.7" fill="#1a1a1a"/>
<polygon points="123.7,578.3 122.4,574.1 122.6,568.3 124.8,568.3 125.0,574.1" fill="#1a1a1a"/>
<text x="120.2" y="536.5" font-size="10.5" text-anchor="middle" letter-spacing="0.7" fill="#111" stroke="#111" stroke-width="0.4" transform="rotate(-90 120.2 536.5)">&#934;450</text>
<line x1="134.5" y1="507.7" x2="195.5" y2="507.7" stroke="#1a1a1a" stroke-width="0.85"/>
<line x1="134.5" y1="566.8" x2="195.5" y2="566.8" stroke="#1a1a1a" stroke-width="0.85"/>
<line x1="140.8" y1="507.7" x2="140.8" y2="566.8" stroke="#1a1a1a" stroke-width="0.85"/>
<polygon points="140.8,507.7 139.5,511.9 139.7,517.7 141.9,517.7 142.1,511.9" fill="#1a1a1a"/>
<polygon points="140.8,566.8 139.5,562.6 139.7,556.8 141.9,556.8 142.1,562.6" fill="#1a1a1a"/>
<text x="136.8" y="534.7" font-size="10.5" text-anchor="middle" letter-spacing="0.7" fill="#111" stroke="#111" stroke-width="0.4" transform="rotate(-90 136.8 534.7)">&#934;350h6</text>
<line x1="153.4" y1="530.5" x2="169.1" y2="530.5" stroke="#1a1a1a" stroke-width="0.85"/>
<line x1="153.4" y1="543.7" x2="169.1" y2="543.7" stroke="#1a1a1a" stroke-width="0.85"/>
<line x1="157.6" y1="479.7" x2="157.6" y2="558.0" stroke="#1a1a1a" stroke-width="0.85"/>
<polygon points="157.6,530.5 156.3,526.3 156.5,520.5 158.7,520.5 158.9,526.3" fill="#1a1a1a"/>
<polygon points="157.6,543.7 156.3,547.9 156.5,553.7 158.7,553.7 158.9,547.9" fill="#1a1a1a"/>
<text x="154.1" y="507.7" font-size="10.5" text-anchor="middle" letter-spacing="0.7" fill="#111" stroke="#111" stroke-width="0.4" transform="rotate(-90 154.1 507.7)">&#934;110k6</text>
<text x="135.0" y="595.0" font-size="10.5" text-anchor="start" letter-spacing="0.7" fill="#111" stroke="#111" stroke-width="0.4">M24</text>
<path d="M135.0,597.5 L159.7,597.5 L168.9,543.5" fill="none" stroke="#1a1a1a" stroke-width="0.85" stroke-linejoin="round"/>
<path d="M196.0,530.5 L170.1,530.5 L169.1,531.5 L169.1,542.7 L170.1,543.7 L196.0,543.7" fill="none" stroke="#1a1a1a" stroke-width="1.5" stroke-linejoin="round"/>
<line x1="160.0" y1="537.1" x2="262.0" y2="537.1" stroke="#1a1a1a" stroke-width="0.6" stroke-dasharray="3 2"/>
<line x1="250.0" y1="542.5" x2="283.0" y2="542.5" stroke="#1a1a1a" stroke-width="0.6" stroke-dasharray="3 2"/>
<path d="M195.5,496.5 L201.3,496.5 L201.3,578.5 L195.5,578.5 L195.5,553 C196,550 198,548.5 198,545 L198,529 C198,526 196,524.5 195.5,522 Z" fill="#fff" stroke="#1a1a1a" stroke-width="1.5" stroke-linejoin="round"/>
<line x1="201.3" y1="513.3" x2="214.4" y2="513.3" stroke="#1a1a1a" stroke-width="0.9"/>
<line x1="201.3" y1="563.5" x2="214.4" y2="563.5" stroke="#1a1a1a" stroke-width="0.9"/>
<line x1="201.3" y1="551.0" x2="212.0" y2="551.0" stroke="#555" stroke-width="0.5"/>
<line x1="212.0" y1="551.0" x2="212.0" y2="563.5" stroke="#555" stroke-width="0.5"/>
<path d="M214.4,573.8 L214.4,509.1 L250.9,509.1" fill="none" stroke="#1a1a1a" stroke-width="1.5" stroke-linejoin="round"/>
<path d="M214.4,573.8 L238.8,573.8 L238.8,583.7 L254.0,583.7 L255.0,585.0 L262.5,585.0 L263.5,583.7 L268.8,583.7 L268.8,509.1 L263.0,509.1" fill="none" stroke="#1a1a1a" stroke-width="1.5" stroke-linejoin="round"/>
<line x1="251.1" y1="509.1" x2="251.1" y2="583.7" stroke="#1a1a1a" stroke-width="1.0"/>
<line x1="238.8" y1="512.0" x2="238.8" y2="574.0" stroke="#555" stroke-width="0.6"/>
<line x1="214.4" y1="512.2" x2="251.0" y2="512.2" stroke="#555" stroke-width="0.5"/>
<circle cx="258.5" cy="502.5" r="8.4" fill="#fff" stroke="#1a1a1a" stroke-width="1.4"/>
<circle cx="258.5" cy="502.5" r="4.5" fill="none" stroke="#1a1a1a" stroke-width="0.9"/>
<line x1="215.2" y1="540.0" x2="238.5" y2="540.0" stroke="#444" stroke-width="0.75"/>
<line x1="215.2" y1="543.1" x2="238.5" y2="543.1" stroke="#444" stroke-width="0.75"/>
<line x1="215.2" y1="546.3" x2="238.5" y2="546.3" stroke="#444" stroke-width="0.75"/>
<line x1="215.2" y1="549.4" x2="238.5" y2="549.4" stroke="#444" stroke-width="0.75"/>
<line x1="215.2" y1="552.6" x2="238.5" y2="552.6" stroke="#444" stroke-width="0.75"/>
<line x1="215.2" y1="555.7" x2="238.5" y2="555.7" stroke="#444" stroke-width="0.75"/>
<line x1="215.2" y1="558.9" x2="238.5" y2="558.9" stroke="#444" stroke-width="0.75"/>
<line x1="215.2" y1="562.0" x2="238.5" y2="562.0" stroke="#444" stroke-width="0.75"/>
<line x1="215.2" y1="565.2" x2="238.5" y2="565.2" stroke="#444" stroke-width="0.75"/>
<line x1="215.2" y1="568.3" x2="238.5" y2="568.3" stroke="#444" stroke-width="0.75"/>
<line x1="238.8" y1="541.5" x2="251.0" y2="541.5" stroke="#555" stroke-width="0.5"/>
<rect x="215.2" y="556.5" width="9.0" height="10.0" fill="#fff" stroke="#555" stroke-width="0.6"/>
<path d="M216.1,561.5 L219.6,558.0 L223.1,561.5 L219.6,565.0 Z" fill="none" stroke="#1a1a1a" stroke-width="0.7" stroke-linejoin="round"/>
<circle cx="219.6" cy="561.5" r="1.9" fill="none" stroke="#1a1a1a" stroke-width="0.6"/>
<circle cx="219.6" cy="561.5" r="0.5" fill="#333" stroke="#1a1a1a" stroke-width="0.5"/>
<line x1="230.9" y1="509.1" x2="230.9" y2="537.1" stroke="#1a1a1a" stroke-width="0.85"/>
<polygon points="230.9,509.1 229.6,512.9 229.8,518.1 232.0,518.1 232.2,512.9" fill="#1a1a1a"/>
<polygon points="230.9,537.1 229.6,533.3 229.8,528.1 232.0,528.1 232.2,533.3" fill="#1a1a1a"/>
<text x="228.2" y="523.3" font-size="10.5" text-anchor="middle" letter-spacing="0.7" fill="#111" stroke="#111" stroke-width="0.4" transform="rotate(-90 228.2 523.3)">210</text>
<line x1="254.3" y1="527.0" x2="254.3" y2="553.0" stroke="#1a1a1a" stroke-width="0.85"/>
<polygon points="254.3,537.1 253.0,533.3 253.2,528.1 255.4,528.1 255.6,533.3" fill="#1a1a1a"/>
<polygon points="254.3,542.5 253.0,546.3 253.2,551.5 255.4,551.5 255.6,546.3" fill="#1a1a1a"/>
<text x="250.8" y="524.0" font-size="10.5" text-anchor="middle" letter-spacing="0.7" fill="#111" stroke="#111" stroke-width="0.4" transform="rotate(-90 250.8 524.0)">33.4</text>
<line x1="271.1" y1="509.5" x2="271.1" y2="520.0" stroke="#1a1a1a" stroke-width="1.1"/>
<line x1="271.1" y1="566.0" x2="271.1" y2="583.0" stroke="#1a1a1a" stroke-width="1.1"/>
<line x1="271.1" y1="520.2" x2="280.5" y2="520.2" stroke="#1a1a1a" stroke-width="0.9"/>
<line x1="271.1" y1="565.9" x2="280.5" y2="565.9" stroke="#1a1a1a" stroke-width="0.9"/>
<line x1="276.4" y1="510.7" x2="276.4" y2="574.5" stroke="#1a1a1a" stroke-width="0.5"/>
<polygon points="276.4,510.7 275.2,514.5 275.4,519.7 277.4,519.7 277.6,514.5" fill="#1a1a1a"/>
<polygon points="276.4,574.5 275.2,570.7 275.4,565.5 277.4,565.5 277.6,570.7" fill="#1a1a1a"/>
<rect x="264.8" y="527.0" width="13" height="31" fill="#fff"/>
<text x="272.8" y="542.2" font-size="10.5" text-anchor="middle" letter-spacing="0.7" fill="#111" stroke="#111" stroke-width="0.4" transform="rotate(-90 272.8 542.2)">&#934;450</text>
<path d="M280.5,516.0 L283.8,514.0 L283.8,510.9 L363.1,510.9 L370.6,518.5 L370.6,567.1 L363.1,575.2 L283.8,575.2 L283.8,572.0 L280.5,570.0 Z" fill="none" stroke="#1a1a1a" stroke-width="1.5" stroke-linejoin="round"/>
<line x1="345.1" y1="510.9" x2="345.1" y2="575.2" stroke="#1a1a1a" stroke-width="0.9"/>
<line x1="293.7" y1="514.2" x2="345.1" y2="514.2" stroke="#1a1a1a" stroke-width="0.6"/>
<line x1="293.7" y1="571.8" x2="345.1" y2="571.8" stroke="#1a1a1a" stroke-width="0.6"/>
<line x1="284.0" y1="512.6" x2="345.0" y2="512.6" stroke="#555" stroke-width="0.5"/>
<line x1="284.0" y1="573.5" x2="345.0" y2="573.5" stroke="#555" stroke-width="0.5"/>
<line x1="284.7" y1="529.2" x2="312.3" y2="529.2" stroke="#444" stroke-width="0.8"/>
<line x1="284.7" y1="532.0" x2="312.3" y2="532.0" stroke="#444" stroke-width="0.8"/>
<line x1="284.7" y1="534.8" x2="312.3" y2="534.8" stroke="#444" stroke-width="0.8"/>
<line x1="284.7" y1="537.6" x2="312.3" y2="537.6" stroke="#444" stroke-width="0.8"/>
<line x1="284.7" y1="540.2" x2="312.3" y2="540.2" stroke="#444" stroke-width="0.8"/>
<line x1="284.7" y1="545.5" x2="312.3" y2="545.5" stroke="#444" stroke-width="0.8"/>
<line x1="284.7" y1="548.3" x2="312.3" y2="548.3" stroke="#444" stroke-width="0.8"/>
<line x1="284.7" y1="550.6" x2="312.3" y2="550.6" stroke="#444" stroke-width="0.8"/>
<line x1="284.7" y1="553.4" x2="312.3" y2="553.4" stroke="#444" stroke-width="0.8"/>
<line x1="284.7" y1="556.2" x2="312.3" y2="556.2" stroke="#444" stroke-width="0.8"/>
<path d="M318,560.2 Q322.5,562.5 328.5,560.2 M331.5,560.2 Q337.5,562.5 343.5,560.2" fill="none" stroke="#1a1a1a" stroke-width="1.1" stroke-linejoin="round"/>
<line x1="284.0" y1="542.5" x2="312.3" y2="542.5" stroke="#1a1a1a" stroke-width="0.6" stroke-dasharray="3 2"/>
<rect x="312.3" y="524.8" width="34.6" height="35.1" fill="none" stroke="#1a1a1a" stroke-width="0.9"/>
<line x1="314.0" y1="542.5" x2="372.0" y2="542.5" stroke="#777" stroke-width="0.6" stroke-dasharray="2 2.5"/>
<line x1="260.4" y1="495.0" x2="317.2" y2="495.0" stroke="#1a1a1a" stroke-width="0.85"/>
<line x1="306.4" y1="495.0" x2="306.4" y2="543.5" stroke="#1a1a1a" stroke-width="0.85"/>
<polygon points="306.4,495.0 305.2,498.8 305.4,504.0 307.4,504.0 307.6,498.8" fill="#1a1a1a"/>
<polygon points="306.4,542.5 305.2,538.7 305.4,533.5 307.4,533.5 307.6,538.7" fill="#1a1a1a"/>
<text x="302.3" y="519.4" font-size="10.5" text-anchor="middle" letter-spacing="0.7" fill="#111" stroke="#111" stroke-width="0.4" transform="rotate(-90 302.3 519.4)">285</text>
<line x1="365.0" y1="510.9" x2="398.0" y2="510.9" stroke="#1a1a1a" stroke-width="0.85"/>
<line x1="365.0" y1="575.2" x2="398.0" y2="575.2" stroke="#1a1a1a" stroke-width="0.85"/>
<line x1="392.3" y1="510.9" x2="392.3" y2="575.2" stroke="#1a1a1a" stroke-width="0.85"/>
<polygon points="392.3,510.9 391.0,515.1 391.2,520.9 393.4,520.9 393.6,515.1" fill="#1a1a1a"/>
<polygon points="392.3,575.2 391.0,571.0 391.2,565.2 393.4,565.2 393.6,571.0" fill="#1a1a1a"/>
<text x="389.3" y="542.8" font-size="10.5" text-anchor="middle" letter-spacing="0.7" fill="#111" stroke="#111" stroke-width="0.4" transform="rotate(-90 389.3 542.8)">G</text>
<line x1="195.3" y1="578.5" x2="195.3" y2="600.5" stroke="#1a1a1a" stroke-width="0.85"/>
<line x1="177.3" y1="595.8" x2="213.6" y2="595.8" stroke="#1a1a1a" stroke-width="0.85"/>
<polygon points="194.3,595.8 190.5,594.5 185.3,594.7 185.3,596.9 190.5,597.1" fill="#1a1a1a"/>
<polygon points="196.3,595.8 200.1,594.5 205.3,594.7 205.3,596.9 200.1,597.1" fill="#1a1a1a"/>
<text x="209.2" y="591.9" font-size="10.5" text-anchor="middle" letter-spacing="0.7" fill="#111" stroke="#111" stroke-width="0.4">5</text>
<path d="M454.0,553 L454.0,572.6 L465.5,583.8 L518.2,583.8 L529.7,572.6 L529.7,553" fill="none" stroke="#1a1a1a" stroke-width="1.3" stroke-linejoin="round"/>
<path d="M457.8,561.0 L465.5,573.2 L472.0,573.2 M510.4,573.2 L518.2,573.2 L525.9,561.0" fill="none" stroke="#1a1a1a" stroke-width="0.8" stroke-linejoin="round"/>
<path d="M486.4,498.5 L488.4,495.6 Q491.2,494.4 494.0,495.6 L496.0,498.5" fill="none" stroke="#1a1a1a" stroke-width="1.1" stroke-linejoin="round"/>
<circle cx="491.2" cy="538.0" r="39.9" fill="none" stroke="#1a1a1a" stroke-width="1.4"/>
<circle cx="491.2" cy="538.0" r="34.5" fill="none" stroke="#555" stroke-width="0.6" stroke-dasharray="2 2"/>
<circle cx="491.2" cy="538.0" r="29.0" fill="none" stroke="#1a1a1a" stroke-width="0.8"/>
<circle cx="492.2" cy="538.0" r="6.0" fill="none" stroke="#1a1a1a" stroke-width="0.8"/>
<circle cx="504.4" cy="506.1" r="2.1" fill="none" stroke="#1a1a1a" stroke-width="0.7"/>
<circle cx="523.1" cy="524.8" r="2.1" fill="none" stroke="#1a1a1a" stroke-width="0.7"/>
<circle cx="523.1" cy="551.2" r="2.1" fill="none" stroke="#1a1a1a" stroke-width="0.7"/>
<circle cx="504.4" cy="569.9" r="2.1" fill="none" stroke="#1a1a1a" stroke-width="0.7"/>
<circle cx="478.0" cy="569.9" r="2.1" fill="none" stroke="#1a1a1a" stroke-width="0.7"/>
<circle cx="459.3" cy="551.2" r="2.1" fill="none" stroke="#1a1a1a" stroke-width="0.7"/>
<circle cx="459.3" cy="524.8" r="2.1" fill="none" stroke="#1a1a1a" stroke-width="0.7"/>
<circle cx="475.6" cy="506.8" r="2.1" fill="none" stroke="#1a1a1a" stroke-width="0.7"/>
<line x1="491.2" y1="490.0" x2="491.2" y2="586.0" stroke="#555" stroke-width="0.6" stroke-dasharray="2 2.5"/>
<line x1="452.2" y1="538.0" x2="532.2" y2="538.0" stroke="#555" stroke-width="0.6" stroke-dasharray="2 2.5"/>
<line x1="513.3" y1="511.0" x2="470.0" y2="565.8" stroke="#1a1a1a" stroke-width="0.8"/>
<polygon points="513.3,511.0 508.0,515.7 509.9,517.2" fill="#1a1a1a"/>
<polygon points="470.0,565.8 475.3,561.1 473.4,559.6" fill="#1a1a1a"/>
<text x="480.0" y="549.0" font-size="10.5" text-anchor="middle" letter-spacing="0.4" fill="#111" transform="rotate(-51.5 480.0 549.0)">&#934;400</text>
<line x1="473.4" y1="478.0" x2="473.4" y2="507.0" stroke="#1a1a1a" stroke-width="0.85"/>
<line x1="477.5" y1="478.0" x2="477.5" y2="507.0" stroke="#1a1a1a" stroke-width="0.85"/>
<line x1="456.3" y1="484.3" x2="528.5" y2="484.3" stroke="#1a1a1a" stroke-width="0.85"/>
<polygon points="473.4,484.3 469.6,483.0 464.4,483.2 464.4,485.4 469.6,485.6" fill="#1a1a1a"/>
<polygon points="477.5,484.3 481.3,483.0 486.5,483.2 486.5,485.4 481.3,485.6" fill="#1a1a1a"/>
<text x="482.4" y="480.7" font-size="10.5" text-anchor="start" letter-spacing="0.7" fill="#111" stroke="#111" stroke-width="0.4">8&#8211;&#934;17.5</text>
<line x1="431.0" y1="538.0" x2="451.4" y2="538.0" stroke="#1a1a1a" stroke-width="0.85"/>
<line x1="431.0" y1="584.3" x2="464.0" y2="584.3" stroke="#1a1a1a" stroke-width="0.85"/>
<line x1="434.3" y1="538.0" x2="434.3" y2="584.3" stroke="#1a1a1a" stroke-width="0.85"/>
<polygon points="434.3,538.0 433.0,542.2 433.2,548.0 435.4,548.0 435.6,542.2" fill="#1a1a1a"/>
<polygon points="434.3,584.3 433.0,580.1 433.2,574.3 435.4,574.3 435.6,580.1" fill="#1a1a1a"/>
<text x="432.0" y="561.6" font-size="10.5" text-anchor="middle" letter-spacing="0.7" fill="#111" stroke="#111" stroke-width="0.4" transform="rotate(-90 432.0 561.6)">355</text>
<line x1="453.8" y1="561.0" x2="453.8" y2="607.0" stroke="#1a1a1a" stroke-width="0.85"/>
<line x1="529.6" y1="561.0" x2="529.6" y2="607.0" stroke="#1a1a1a" stroke-width="0.85"/>
<line x1="453.8" y1="601.8" x2="529.6" y2="601.8" stroke="#1a1a1a" stroke-width="0.85"/>
<polygon points="453.8,601.8 458.0,600.5 463.8,600.7 463.8,602.9 458.0,603.1" fill="#1a1a1a"/>
<polygon points="529.6,601.8 525.4,600.5 519.6,600.7 519.6,602.9 525.4,603.1" fill="#1a1a1a"/>
<text x="491.2" y="598.7" font-size="10.5" text-anchor="middle" letter-spacing="0.7" fill="#111" stroke="#111" stroke-width="0.4">556</text>
<clipPath id="c55_829"><circle cx="55.5" cy="829.6" r="10.4"/></clipPath>
<g clip-path="url(#c55_829)" stroke="#1a1a1a" stroke-width="0.9"><line x1="25.3" y1="840.0" x2="46.1" y2="819.2"/><line x1="30.5" y1="840.0" x2="51.3" y2="819.2"/><line x1="35.7" y1="840.0" x2="56.5" y2="819.2"/><line x1="40.9" y1="840.0" x2="61.7" y2="819.2"/><line x1="46.1" y1="840.0" x2="66.9" y2="819.2"/><line x1="51.3" y1="840.0" x2="72.1" y2="819.2"/><line x1="56.5" y1="840.0" x2="77.3" y2="819.2"/><line x1="61.7" y1="840.0" x2="82.5" y2="819.2"/></g>
<circle cx="55.5" cy="829.6" r="10.4" fill="none" stroke="#1a1a1a" stroke-width="1.2"/>
<rect x="52.5" y="818.2" width="6.0" height="3.2" fill="#fff"/>
<path d="M52.5,819.5 L52.5,821.4 L58.5,821.4 L58.5,819.5" fill="none" stroke="#1a1a1a" stroke-width="1.0" stroke-linejoin="round"/>
<line x1="52.5" y1="803.2" x2="52.5" y2="820.1" stroke="#1a1a1a" stroke-width="0.85"/>
<line x1="58.5" y1="803.2" x2="58.5" y2="820.1" stroke="#1a1a1a" stroke-width="0.85"/>
<line x1="32.9" y1="809.2" x2="74.3" y2="809.2" stroke="#1a1a1a" stroke-width="0.85"/>
<polygon points="52.5,809.2 48.7,807.9 43.5,808.1 43.5,810.3 48.7,810.5" fill="#1a1a1a"/>
<polygon points="58.5,809.2 62.3,807.9 67.5,808.1 67.5,810.3 62.3,810.5" fill="#1a1a1a"/>
<text x="41.8" y="804.7" font-size="10.5" text-anchor="middle" letter-spacing="0.7" fill="#111" stroke="#111" stroke-width="0.4">28</text>
<line x1="59.5" y1="818.9" x2="90.5" y2="818.9" stroke="#1a1a1a" stroke-width="0.85"/>
<line x1="59.5" y1="840.3" x2="90.5" y2="840.3" stroke="#1a1a1a" stroke-width="0.85"/>
<line x1="84.7" y1="818.9" x2="84.7" y2="840.3" stroke="#1a1a1a" stroke-width="0.85"/>
<polygon points="84.7,818.9 83.4,822.5 83.6,827.4 85.8,827.4 86.0,822.5" fill="#1a1a1a"/>
<polygon points="84.7,840.3 83.4,836.7 83.6,831.8 85.8,831.8 86.0,836.7" fill="#1a1a1a"/>
<text x="80.6" y="829.6" font-size="10.5" text-anchor="middle" letter-spacing="0.7" fill="#111" stroke="#111" stroke-width="0.4" transform="rotate(-90 80.6 829.6)">116</text>
<line x1="157.0" y1="751.0" x2="157.0" y2="834.0" stroke="#1a1a1a" stroke-width="0.85"/>
<line x1="256.7" y1="751.0" x2="256.7" y2="874.0" stroke="#1a1a1a" stroke-width="0.85"/>
<line x1="358.3" y1="751.0" x2="358.3" y2="808.0" stroke="#1a1a1a" stroke-width="0.85"/>
<line x1="157.0" y1="755.8" x2="256.7" y2="755.8" stroke="#1a1a1a" stroke-width="0.85"/>
<polygon points="157.0,755.8 161.2,754.5 167.0,754.7 167.0,756.9 161.2,757.1" fill="#1a1a1a"/>
<polygon points="256.7,755.8 252.5,754.5 246.7,754.7 246.7,756.9 252.5,757.1" fill="#1a1a1a"/>
<line x1="256.7" y1="755.8" x2="358.3" y2="755.8" stroke="#1a1a1a" stroke-width="0.85"/>
<polygon points="256.7,755.8 260.9,754.5 266.7,754.7 266.7,756.9 260.9,757.1" fill="#1a1a1a"/>
<polygon points="358.3,755.8 354.1,754.5 348.3,754.7 348.3,756.9 354.1,757.1" fill="#1a1a1a"/>
<text x="207.3" y="752.9" font-size="10.5" text-anchor="middle" letter-spacing="0.7" fill="#111" stroke="#111" stroke-width="0.4">695</text>
<text x="306.9" y="752.9" font-size="10.5" text-anchor="middle" letter-spacing="0.7" fill="#111" stroke="#111" stroke-width="0.4">L3</text>
<line x1="183.4" y1="770.0" x2="183.4" y2="787.0" stroke="#1a1a1a" stroke-width="0.85"/>
<line x1="189.2" y1="770.0" x2="189.2" y2="787.0" stroke="#1a1a1a" stroke-width="0.85"/>
<line x1="157.0" y1="776.6" x2="183.4" y2="776.6" stroke="#1a1a1a" stroke-width="0.85"/>
<polygon points="157.0,776.6 160.6,775.3 165.5,775.5 165.5,777.7 160.6,777.9" fill="#1a1a1a"/>
<polygon points="183.4,776.6 179.8,775.3 174.9,775.5 174.9,777.7 179.8,777.9" fill="#1a1a1a"/>
<line x1="189.2" y1="776.6" x2="204.4" y2="776.6" stroke="#1a1a1a" stroke-width="0.85"/>
<polygon points="189.2,776.6 193.0,775.3 198.2,775.5 198.2,777.7 193.0,777.9" fill="#1a1a1a"/>
<text x="170.0" y="774.2" font-size="10.5" text-anchor="middle" letter-spacing="0.7" fill="#111" stroke="#111" stroke-width="0.4">210</text>
<text x="198.2" y="774.2" font-size="10.5" text-anchor="middle" letter-spacing="0.7" fill="#111" stroke="#111" stroke-width="0.4">25</text>
<line x1="105.3" y1="786.5" x2="183.4" y2="786.5" stroke="#1a1a1a" stroke-width="0.85"/>
<line x1="105.3" y1="868.3" x2="183.4" y2="868.3" stroke="#1a1a1a" stroke-width="0.85"/>
<line x1="111.6" y1="786.5" x2="111.6" y2="868.3" stroke="#1a1a1a" stroke-width="0.85"/>
<polygon points="111.6,786.5 110.3,790.7 110.5,796.5 112.7,796.5 112.9,790.7" fill="#1a1a1a"/>
<polygon points="111.6,868.3 110.3,864.1 110.5,858.3 112.7,858.3 112.9,864.1" fill="#1a1a1a"/>
<text x="108.1" y="826.5" font-size="10.5" text-anchor="middle" letter-spacing="0.7" fill="#111" stroke="#111" stroke-width="0.4" transform="rotate(-90 108.1 826.5)">&#934;550</text>
<line x1="122.4" y1="797.7" x2="183.4" y2="797.7" stroke="#1a1a1a" stroke-width="0.85"/>
<line x1="122.4" y1="856.8" x2="183.4" y2="856.8" stroke="#1a1a1a" stroke-width="0.85"/>
<line x1="128.7" y1="797.7" x2="128.7" y2="856.8" stroke="#1a1a1a" stroke-width="0.85"/>
<polygon points="128.7,797.7 127.4,801.9 127.6,807.7 129.8,807.7 130.0,801.9" fill="#1a1a1a"/>
<polygon points="128.7,856.8 127.4,852.6 127.6,846.8 129.8,846.8 130.0,852.6" fill="#1a1a1a"/>
<text x="124.7" y="824.7" font-size="10.5" text-anchor="middle" letter-spacing="0.7" fill="#111" stroke="#111" stroke-width="0.4" transform="rotate(-90 124.7 824.7)">&#934;450h6</text>
<line x1="141.3" y1="820.5" x2="157.0" y2="820.5" stroke="#1a1a1a" stroke-width="0.85"/>
<line x1="141.3" y1="833.7" x2="157.0" y2="833.7" stroke="#1a1a1a" stroke-width="0.85"/>
<line x1="145.5" y1="769.7" x2="145.5" y2="848.0" stroke="#1a1a1a" stroke-width="0.85"/>
<polygon points="145.5,820.5 144.2,816.3 144.4,810.5 146.6,810.5 146.8,816.3" fill="#1a1a1a"/>
<polygon points="145.5,833.7 144.2,837.9 144.4,843.7 146.6,843.7 146.8,837.9" fill="#1a1a1a"/>
<text x="142.0" y="797.7" font-size="10.5" text-anchor="middle" letter-spacing="0.7" fill="#111" stroke="#111" stroke-width="0.4" transform="rotate(-90 142.0 797.7)">&#934;110k6</text>
<text x="122.9" y="885.0" font-size="10.5" text-anchor="start" letter-spacing="0.7" fill="#111" stroke="#111" stroke-width="0.4">M24</text>
<path d="M122.9,887.5 L147.6,887.5 L156.8,833.5" fill="none" stroke="#1a1a1a" stroke-width="0.85" stroke-linejoin="round"/>
<path d="M183.9,820.5 L158.0,820.5 L157.0,821.5 L157.0,832.7 L158.0,833.7 L183.9,833.7" fill="none" stroke="#1a1a1a" stroke-width="1.5" stroke-linejoin="round"/>
<line x1="147.9" y1="827.1" x2="249.9" y2="827.1" stroke="#1a1a1a" stroke-width="0.6" stroke-dasharray="3 2"/>
<line x1="237.9" y1="832.5" x2="270.9" y2="832.5" stroke="#1a1a1a" stroke-width="0.6" stroke-dasharray="3 2"/>
<path d="M183.4,786.5 L189.20000000000002,786.5 L189.20000000000002,868.5 L183.4,868.5 L183.4,843 C183.9,840 185.9,838.5 185.9,835 L185.9,819 C185.9,816 183.9,814.5 183.4,812 Z" fill="#fff" stroke="#1a1a1a" stroke-width="1.5" stroke-linejoin="round"/>
<line x1="189.2" y1="803.3" x2="202.3" y2="803.3" stroke="#1a1a1a" stroke-width="0.9"/>
<line x1="189.2" y1="853.5" x2="202.3" y2="853.5" stroke="#1a1a1a" stroke-width="0.9"/>
<line x1="189.2" y1="841.0" x2="199.9" y2="841.0" stroke="#555" stroke-width="0.5"/>
<line x1="199.9" y1="841.0" x2="199.9" y2="853.5" stroke="#555" stroke-width="0.5"/>
<path d="M202.3,863.8 L202.3,799.1 L238.8,799.1" fill="none" stroke="#1a1a1a" stroke-width="1.5" stroke-linejoin="round"/>
<path d="M202.3,863.8 L226.7,863.8 L226.7,873.7 L241.9,873.7 L242.9,875.0 L250.4,875.0 L251.4,873.7 L256.7,873.7 L256.7,799.1 L250.9,799.1" fill="none" stroke="#1a1a1a" stroke-width="1.5" stroke-linejoin="round"/>
<line x1="239.0" y1="799.1" x2="239.0" y2="873.7" stroke="#1a1a1a" stroke-width="1.0"/>
<line x1="226.7" y1="802.0" x2="226.7" y2="864.0" stroke="#555" stroke-width="0.6"/>
<line x1="202.3" y1="802.2" x2="238.9" y2="802.2" stroke="#555" stroke-width="0.5"/>
<circle cx="246.4" cy="792.5" r="8.4" fill="#fff" stroke="#1a1a1a" stroke-width="1.4"/>
<circle cx="246.4" cy="792.5" r="4.5" fill="none" stroke="#1a1a1a" stroke-width="0.9"/>
<line x1="203.1" y1="830.0" x2="226.4" y2="830.0" stroke="#444" stroke-width="0.75"/>
<line x1="203.1" y1="833.1" x2="226.4" y2="833.1" stroke="#444" stroke-width="0.75"/>
<line x1="203.1" y1="836.3" x2="226.4" y2="836.3" stroke="#444" stroke-width="0.75"/>
<line x1="203.1" y1="839.4" x2="226.4" y2="839.4" stroke="#444" stroke-width="0.75"/>
<line x1="203.1" y1="842.6" x2="226.4" y2="842.6" stroke="#444" stroke-width="0.75"/>
<line x1="203.1" y1="845.7" x2="226.4" y2="845.7" stroke="#444" stroke-width="0.75"/>
<line x1="203.1" y1="848.9" x2="226.4" y2="848.9" stroke="#444" stroke-width="0.75"/>
<line x1="203.1" y1="852.0" x2="226.4" y2="852.0" stroke="#444" stroke-width="0.75"/>
<line x1="203.1" y1="855.2" x2="226.4" y2="855.2" stroke="#444" stroke-width="0.75"/>
<line x1="203.1" y1="858.3" x2="226.4" y2="858.3" stroke="#444" stroke-width="0.75"/>
<line x1="226.7" y1="831.5" x2="238.9" y2="831.5" stroke="#555" stroke-width="0.5"/>
<rect x="203.1" y="846.5" width="9.0" height="10.0" fill="#fff" stroke="#555" stroke-width="0.6"/>
<path d="M204.0,851.5 L207.5,848.0 L211.0,851.5 L207.5,855.0 Z" fill="none" stroke="#1a1a1a" stroke-width="0.7" stroke-linejoin="round"/>
<circle cx="207.5" cy="851.5" r="1.9" fill="none" stroke="#1a1a1a" stroke-width="0.6"/>
<circle cx="207.5" cy="851.5" r="0.5" fill="#333" stroke="#1a1a1a" stroke-width="0.5"/>
<line x1="218.8" y1="799.1" x2="218.8" y2="827.1" stroke="#1a1a1a" stroke-width="0.85"/>
<polygon points="218.8,799.1 217.5,802.9 217.7,808.1 219.9,808.1 220.1,802.9" fill="#1a1a1a"/>
<polygon points="218.8,827.1 217.5,823.3 217.7,818.1 219.9,818.1 220.1,823.3" fill="#1a1a1a"/>
<text x="216.1" y="813.3" font-size="10.5" text-anchor="middle" letter-spacing="0.7" fill="#111" stroke="#111" stroke-width="0.4" transform="rotate(-90 216.1 813.3)">210</text>
<line x1="242.2" y1="817.0" x2="242.2" y2="843.0" stroke="#1a1a1a" stroke-width="0.85"/>
<polygon points="242.2,827.1 240.9,823.3 241.1,818.1 243.3,818.1 243.5,823.3" fill="#1a1a1a"/>
<polygon points="242.2,832.5 240.9,836.3 241.1,841.5 243.3,841.5 243.5,836.3" fill="#1a1a1a"/>
<text x="238.7" y="814.0" font-size="10.5" text-anchor="middle" letter-spacing="0.7" fill="#111" stroke="#111" stroke-width="0.4" transform="rotate(-90 238.7 814.0)">33.4</text>
<line x1="259.0" y1="799.5" x2="259.0" y2="810.0" stroke="#1a1a1a" stroke-width="1.1"/>
<line x1="259.0" y1="856.0" x2="259.0" y2="873.0" stroke="#1a1a1a" stroke-width="1.1"/>
<line x1="259.0" y1="810.2" x2="268.4" y2="810.2" stroke="#1a1a1a" stroke-width="0.9"/>
<line x1="259.0" y1="855.9" x2="268.4" y2="855.9" stroke="#1a1a1a" stroke-width="0.9"/>
<line x1="264.3" y1="800.7" x2="264.3" y2="864.5" stroke="#1a1a1a" stroke-width="0.5"/>
<polygon points="264.3,800.7 263.1,804.5 263.3,809.7 265.3,809.7 265.5,804.5" fill="#1a1a1a"/>
<polygon points="264.3,864.5 263.1,860.7 263.3,855.5 265.3,855.5 265.5,860.7" fill="#1a1a1a"/>
<rect x="252.7" y="817.0" width="13" height="31" fill="#fff"/>
<text x="260.7" y="832.2" font-size="10.5" text-anchor="middle" letter-spacing="0.7" fill="#111" stroke="#111" stroke-width="0.4" transform="rotate(-90 260.7 832.2)">&#934;450</text>
<path d="M268.4,806.0 L271.7,804.0 L271.7,800.9 L351.0,800.9 L358.5,808.5 L358.5,857.1 L351.0,865.2 L271.7,865.2 L271.7,862.0 L268.4,860.0 Z" fill="none" stroke="#1a1a1a" stroke-width="1.5" stroke-linejoin="round"/>
<line x1="333.0" y1="800.9" x2="333.0" y2="865.2" stroke="#1a1a1a" stroke-width="0.9"/>
<line x1="281.6" y1="804.2" x2="333.0" y2="804.2" stroke="#1a1a1a" stroke-width="0.6"/>
<line x1="281.6" y1="861.8" x2="333.0" y2="861.8" stroke="#1a1a1a" stroke-width="0.6"/>
<line x1="271.9" y1="802.6" x2="332.9" y2="802.6" stroke="#555" stroke-width="0.5"/>
<line x1="271.9" y1="863.5" x2="332.9" y2="863.5" stroke="#555" stroke-width="0.5"/>
<line x1="272.6" y1="819.2" x2="300.2" y2="819.2" stroke="#444" stroke-width="0.8"/>
<line x1="272.6" y1="822.0" x2="300.2" y2="822.0" stroke="#444" stroke-width="0.8"/>
<line x1="272.6" y1="824.8" x2="300.2" y2="824.8" stroke="#444" stroke-width="0.8"/>
<line x1="272.6" y1="827.6" x2="300.2" y2="827.6" stroke="#444" stroke-width="0.8"/>
<line x1="272.6" y1="830.2" x2="300.2" y2="830.2" stroke="#444" stroke-width="0.8"/>
<line x1="272.6" y1="835.5" x2="300.2" y2="835.5" stroke="#444" stroke-width="0.8"/>
<line x1="272.6" y1="838.3" x2="300.2" y2="838.3" stroke="#444" stroke-width="0.8"/>
<line x1="272.6" y1="840.6" x2="300.2" y2="840.6" stroke="#444" stroke-width="0.8"/>
<line x1="272.6" y1="843.4" x2="300.2" y2="843.4" stroke="#444" stroke-width="0.8"/>
<line x1="272.6" y1="846.2" x2="300.2" y2="846.2" stroke="#444" stroke-width="0.8"/>
<path d="M305.9,850.2 Q310.4,852.5 316.4,850.2 M319.4,850.2 Q325.4,852.5 331.4,850.2" fill="none" stroke="#1a1a1a" stroke-width="1.1" stroke-linejoin="round"/>
<line x1="271.9" y1="832.5" x2="300.2" y2="832.5" stroke="#1a1a1a" stroke-width="0.6" stroke-dasharray="3 2"/>
<rect x="300.2" y="814.8" width="34.6" height="35.1" fill="none" stroke="#1a1a1a" stroke-width="0.9"/>
<line x1="301.9" y1="832.5" x2="359.9" y2="832.5" stroke="#777" stroke-width="0.6" stroke-dasharray="2 2.5"/>
<line x1="248.3" y1="785.0" x2="305.1" y2="785.0" stroke="#1a1a1a" stroke-width="0.85"/>
<line x1="294.3" y1="785.0" x2="294.3" y2="833.5" stroke="#1a1a1a" stroke-width="0.85"/>
<polygon points="294.3,785.0 293.1,788.8 293.3,794.0 295.3,794.0 295.5,788.8" fill="#1a1a1a"/>
<polygon points="294.3,832.5 293.1,828.7 293.3,823.5 295.3,823.5 295.5,828.7" fill="#1a1a1a"/>
<text x="290.2" y="809.4" font-size="10.5" text-anchor="middle" letter-spacing="0.7" fill="#111" stroke="#111" stroke-width="0.4" transform="rotate(-90 290.2 809.4)">285</text>
<line x1="352.9" y1="800.9" x2="385.9" y2="800.9" stroke="#1a1a1a" stroke-width="0.85"/>
<line x1="352.9" y1="865.2" x2="385.9" y2="865.2" stroke="#1a1a1a" stroke-width="0.85"/>
<line x1="380.2" y1="800.9" x2="380.2" y2="865.2" stroke="#1a1a1a" stroke-width="0.85"/>
<polygon points="380.2,800.9 378.9,805.1 379.1,810.9 381.3,810.9 381.5,805.1" fill="#1a1a1a"/>
<polygon points="380.2,865.2 378.9,861.0 379.1,855.2 381.3,855.2 381.5,861.0" fill="#1a1a1a"/>
<text x="377.2" y="832.8" font-size="10.5" text-anchor="middle" letter-spacing="0.7" fill="#111" stroke="#111" stroke-width="0.4" transform="rotate(-90 377.2 832.8)">G</text>
<line x1="183.2" y1="868.5" x2="183.2" y2="890.5" stroke="#1a1a1a" stroke-width="0.85"/>
<line x1="165.2" y1="885.8" x2="201.5" y2="885.8" stroke="#1a1a1a" stroke-width="0.85"/>
<polygon points="182.2,885.8 178.4,884.5 173.2,884.7 173.2,886.9 178.4,887.1" fill="#1a1a1a"/>
<polygon points="184.2,885.8 188.0,884.5 193.2,884.7 193.2,886.9 188.0,887.1" fill="#1a1a1a"/>
<text x="197.1" y="881.9" font-size="10.5" text-anchor="middle" letter-spacing="0.7" fill="#111" stroke="#111" stroke-width="0.4">5</text>
<path d="M454.4,843.8 L454.4,863.4000000000001 L465.9,874.5999999999999 L518.6,874.5999999999999 L530.1,863.4000000000001 L530.1,843.8" fill="none" stroke="#1a1a1a" stroke-width="1.3" stroke-linejoin="round"/>
<path d="M458.2,851.8 L465.9,864.0 L472.4,864.0 M510.79999999999995,864.0 L518.6,864.0 L526.3,851.8" fill="none" stroke="#1a1a1a" stroke-width="0.8" stroke-linejoin="round"/>
<path d="M486.79999999999995,789.3 L488.79999999999995,786.4 Q491.59999999999997,785.1999999999999 494.4,786.4 L496.4,789.3" fill="none" stroke="#1a1a1a" stroke-width="1.1" stroke-linejoin="round"/>
<circle cx="491.6" cy="828.8" r="39.9" fill="none" stroke="#1a1a1a" stroke-width="1.4"/>
<circle cx="491.6" cy="828.8" r="34.5" fill="none" stroke="#555" stroke-width="0.6" stroke-dasharray="2 2"/>
<circle cx="491.6" cy="828.8" r="29.0" fill="none" stroke="#1a1a1a" stroke-width="0.8"/>
<circle cx="492.6" cy="828.8" r="6.0" fill="none" stroke="#1a1a1a" stroke-width="0.8"/>
<circle cx="504.8" cy="796.9" r="2.1" fill="none" stroke="#1a1a1a" stroke-width="0.7"/>
<circle cx="523.5" cy="815.6" r="2.1" fill="none" stroke="#1a1a1a" stroke-width="0.7"/>
<circle cx="523.5" cy="842.0" r="2.1" fill="none" stroke="#1a1a1a" stroke-width="0.7"/>
<circle cx="504.8" cy="860.7" r="2.1" fill="none" stroke="#1a1a1a" stroke-width="0.7"/>
<circle cx="478.4" cy="860.7" r="2.1" fill="none" stroke="#1a1a1a" stroke-width="0.7"/>
<circle cx="459.7" cy="842.0" r="2.1" fill="none" stroke="#1a1a1a" stroke-width="0.7"/>
<circle cx="459.7" cy="815.6" r="2.1" fill="none" stroke="#1a1a1a" stroke-width="0.7"/>
<circle cx="476.0" cy="797.6" r="2.1" fill="none" stroke="#1a1a1a" stroke-width="0.7"/>
<line x1="491.6" y1="780.8" x2="491.6" y2="876.8" stroke="#555" stroke-width="0.6" stroke-dasharray="2 2.5"/>
<line x1="452.6" y1="828.8" x2="532.6" y2="828.8" stroke="#555" stroke-width="0.6" stroke-dasharray="2 2.5"/>
<line x1="513.7" y1="801.8" x2="470.4" y2="856.6" stroke="#1a1a1a" stroke-width="0.8"/>
<polygon points="513.7,801.8 508.4,806.5 510.3,808.0" fill="#1a1a1a"/>
<polygon points="470.4,856.6 475.7,851.9 473.8,850.4" fill="#1a1a1a"/>
<text x="480.4" y="839.8" font-size="10.5" text-anchor="middle" letter-spacing="0.4" fill="#111" transform="rotate(-51.5 480.4 839.8)">&#934;500</text>
<line x1="473.8" y1="760.0" x2="473.8" y2="797.8" stroke="#1a1a1a" stroke-width="0.85"/>
<line x1="477.9" y1="760.0" x2="477.9" y2="797.8" stroke="#1a1a1a" stroke-width="0.85"/>
<line x1="456.7" y1="766.3" x2="528.9" y2="766.3" stroke="#1a1a1a" stroke-width="0.85"/>
<polygon points="473.8,766.3 470.0,765.0 464.8,765.2 464.8,767.4 470.0,767.6" fill="#1a1a1a"/>
<polygon points="477.9,766.3 481.7,765.0 486.9,765.2 486.9,767.4 481.7,767.6" fill="#1a1a1a"/>
<text x="482.8" y="762.7" font-size="10.5" text-anchor="start" letter-spacing="0.7" fill="#111" stroke="#111" stroke-width="0.4">8&#8211;&#934;17.5</text>
<line x1="431.4" y1="828.8" x2="451.8" y2="828.8" stroke="#1a1a1a" stroke-width="0.85"/>
<line x1="431.4" y1="875.1" x2="464.4" y2="875.1" stroke="#1a1a1a" stroke-width="0.85"/>
<line x1="434.7" y1="828.8" x2="434.7" y2="875.1" stroke="#1a1a1a" stroke-width="0.85"/>
<polygon points="434.7,828.8 433.4,833.0 433.6,838.8 435.8,838.8 436.0,833.0" fill="#1a1a1a"/>
<polygon points="434.7,875.1 433.4,870.9 433.6,865.1 435.8,865.1 436.0,870.9" fill="#1a1a1a"/>
<text x="432.4" y="852.4" font-size="10.5" text-anchor="middle" letter-spacing="0.7" fill="#111" stroke="#111" stroke-width="0.4" transform="rotate(-90 432.4 852.4)">355</text>
<line x1="454.2" y1="851.8" x2="454.2" y2="897.8" stroke="#1a1a1a" stroke-width="0.85"/>
<line x1="530.0" y1="851.8" x2="530.0" y2="897.8" stroke="#1a1a1a" stroke-width="0.85"/>
<line x1="454.2" y1="892.6" x2="530.0" y2="892.6" stroke="#1a1a1a" stroke-width="0.85"/>
<polygon points="454.2,892.6 458.4,891.3 464.2,891.5 464.2,893.7 458.4,893.9" fill="#1a1a1a"/>
<polygon points="530.0,892.6 525.8,891.3 520.0,891.5 520.0,893.7 525.8,893.9" fill="#1a1a1a"/>
<text x="491.6" y="889.5" font-size="10.5" text-anchor="middle" letter-spacing="0.7" fill="#111" stroke="#111" stroke-width="0.4">556</text>
<path d="M689.2,186.6 L663.5,186.6 L662.5,187.6 L662.5,198.8 L663.5,199.8 L689.2,199.8" fill="none" stroke="#1a1a1a" stroke-width="1.5" stroke-linejoin="round"/>
<line x1="657.5" y1="193.2" x2="701.2" y2="193.2" stroke="#1a1a1a" stroke-width="0.6" stroke-dasharray="3 2"/>
<path d="M707.4,171.1 L692.7,172.79999999999998 Q690.8,173.29999999999998 690.6,176.5 L690.6,209.39999999999998 L692.5,213.1 L703.6,214.7 L703.6,223.5 L706.1,225.79999999999998 L706.1,228.0" fill="none" stroke="#1a1a1a" stroke-width="1.5" stroke-linejoin="round"/>
<path d="M707.4,213.79999999999998 L707.4,165.39999999999998 L741.4,165.39999999999998 L742.6,167.0 L743.8,167.0 L745.1,165.39999999999998 L763.1,165.39999999999998" fill="none" stroke="#1a1a1a" stroke-width="1.5" stroke-linejoin="round"/>
<circle cx="752.2" cy="158.6" r="7.8" fill="#fff" stroke="#1a1a1a" stroke-width="1.4"/>
<circle cx="752.2" cy="158.6" r="4.0" fill="none" stroke="#1a1a1a" stroke-width="0.9"/>
<line x1="743.3" y1="165.4" x2="743.3" y2="237.8" stroke="#1a1a1a" stroke-width="0.9"/>
<line x1="747.0" y1="165.4" x2="747.0" y2="237.8" stroke="#1a1a1a" stroke-width="0.9"/>
<line x1="759.4" y1="165.7" x2="759.4" y2="228.0" stroke="#1a1a1a" stroke-width="1.0"/>
<line x1="763.1" y1="165.7" x2="763.1" y2="228.0" stroke="#1a1a1a" stroke-width="1.1"/>
<line x1="707.4" y1="169.3" x2="743.3" y2="169.3" stroke="#555" stroke-width="0.5"/>
<line x1="732.4" y1="171.2" x2="732.4" y2="237.2" stroke="#555" stroke-width="0.6"/>
<path d="M706.1,228.0 L693.1,228.0 L693.1,237.9 L773.0,237.9 L773.0,228.0 L759.4,228.0" fill="none" stroke="#1a1a1a" stroke-width="1.5" stroke-linejoin="round"/>
<line x1="704.8" y1="209.2" x2="704.8" y2="225.8" stroke="#1a1a1a" stroke-width="1.0"/>
<line x1="706.8" y1="209.2" x2="706.8" y2="227.8" stroke="#1a1a1a" stroke-width="1.0"/>
<line x1="709.0" y1="196.8" x2="731.9" y2="196.8" stroke="#444" stroke-width="0.85"/>
<line x1="709.0" y1="200.4" x2="731.9" y2="200.4" stroke="#444" stroke-width="0.85"/>
<line x1="709.0" y1="204.2" x2="731.9" y2="204.2" stroke="#444" stroke-width="0.85"/>
<line x1="709.0" y1="208.2" x2="731.9" y2="208.2" stroke="#444" stroke-width="0.85"/>
<line x1="718.9" y1="212.6" x2="718.9" y2="224.6" stroke="#444" stroke-width="0.7"/>
<line x1="718.9" y1="212.6" x2="731.9" y2="212.6" stroke="#444" stroke-width="0.85"/>
<line x1="718.9" y1="216.7" x2="731.9" y2="216.7" stroke="#444" stroke-width="0.85"/>
<line x1="718.9" y1="220.8" x2="731.9" y2="220.8" stroke="#444" stroke-width="0.85"/>
<line x1="718.9" y1="224.6" x2="731.9" y2="224.6" stroke="#444" stroke-width="0.85"/>
<path d="M708.8,217.2 L712.3,213.7 L715.8,217.2 L712.3,220.7 Z" fill="none" stroke="#1a1a1a" stroke-width="0.7" stroke-linejoin="round"/>
<circle cx="712.3" cy="217.2" r="1.9" fill="none" stroke="#1a1a1a" stroke-width="0.6"/>
<circle cx="712.3" cy="217.2" r="0.5" fill="#333" stroke="#1a1a1a" stroke-width="0.5"/>
<path d="M763.4,174 L771.5,174 L774.2,169.5 L779.6,169.5 L779.6,227.2 L774.2,227.2 L771.5,223.6 L763.4,223.6" fill="#fff" stroke="#1a1a1a" stroke-width="1.5" stroke-linejoin="round"/>
<clipPath id="cl6"><path d="M770,177.5 Q773,170.8 778.8,170.5 L778.8,226.5 Q773,226 770,219.5 Z"/></clipPath>
<g clip-path="url(#cl6)" stroke="#1a1a1a" stroke-width="0.8"><line x1="765" y1="146.0" x2="782" y2="129.0"/><line x1="765" y1="149.6" x2="782" y2="132.6"/><line x1="765" y1="153.2" x2="782" y2="136.2"/><line x1="765" y1="156.8" x2="782" y2="139.8"/><line x1="765" y1="160.4" x2="782" y2="143.4"/><line x1="765" y1="164.0" x2="782" y2="147.0"/><line x1="765" y1="167.6" x2="782" y2="150.6"/><line x1="765" y1="171.2" x2="782" y2="154.2"/><line x1="765" y1="174.8" x2="782" y2="157.8"/><line x1="765" y1="178.4" x2="782" y2="161.4"/><line x1="765" y1="182.0" x2="782" y2="165.0"/><line x1="765" y1="185.6" x2="782" y2="168.6"/><line x1="765" y1="189.2" x2="782" y2="172.2"/><line x1="765" y1="192.8" x2="782" y2="175.8"/><line x1="765" y1="196.4" x2="782" y2="179.4"/><line x1="765" y1="200.0" x2="782" y2="183.0"/><line x1="765" y1="203.6" x2="782" y2="186.6"/><line x1="765" y1="207.2" x2="782" y2="190.2"/><line x1="765" y1="210.8" x2="782" y2="193.8"/><line x1="765" y1="214.4" x2="782" y2="197.4"/><line x1="765" y1="218.0" x2="782" y2="201.0"/><line x1="765" y1="221.6" x2="782" y2="204.6"/><line x1="765" y1="225.2" x2="782" y2="208.2"/><line x1="765" y1="228.8" x2="782" y2="211.8"/><line x1="765" y1="232.4" x2="782" y2="215.4"/><line x1="765" y1="236.0" x2="782" y2="219.0"/><line x1="765" y1="239.6" x2="782" y2="222.6"/><line x1="765" y1="243.2" x2="782" y2="226.2"/><line x1="765" y1="246.8" x2="782" y2="229.8"/><line x1="765" y1="250.4" x2="782" y2="233.4"/><line x1="765" y1="254.0" x2="782" y2="237.0"/><line x1="765" y1="257.6" x2="782" y2="240.6"/><line x1="765" y1="261.2" x2="782" y2="244.2"/><line x1="765" y1="264.8" x2="782" y2="247.8"/><line x1="765" y1="268.4" x2="782" y2="251.4"/><line x1="765" y1="272.0" x2="782" y2="255.0"/><line x1="765" y1="275.6" x2="782" y2="258.6"/><line x1="765" y1="279.2" x2="782" y2="262.2"/><line x1="765" y1="282.8" x2="782" y2="265.8"/><line x1="765" y1="286.4" x2="782" y2="269.4"/></g>
<path d="M770,177.5 Q773,170.8 778.8,170.5 M778.8,226.5 Q773,226 770,219.5" fill="none" stroke="#1a1a1a" stroke-width="0.7" stroke-linejoin="round"/>
<line x1="770.0" y1="177.5" x2="770.0" y2="219.5" stroke="#1a1a1a" stroke-width="0.7"/>
<rect x="770.5" y="194.5" width="8.2" height="8.6" fill="#fff"/>
<rect x="772.5" y="189.5" width="5.2" height="4.2" fill="#333" stroke="#1a1a1a" stroke-width="0.9"/>
<rect x="772.5" y="204.0" width="5.2" height="4.2" fill="#333" stroke="#1a1a1a" stroke-width="0.9"/>
<line x1="750.0" y1="198.7" x2="784.0" y2="198.7" stroke="#1a1a1a" stroke-width="0.6" stroke-dasharray="3 2"/>
<line x1="728.3" y1="157.0" x2="728.3" y2="228.0" stroke="#555" stroke-width="0.6" stroke-dasharray="2 2"/>
<line x1="760.4" y1="139.8" x2="760.4" y2="166.0" stroke="#1a1a1a" stroke-width="0.85"/>
<line x1="779.6" y1="139.8" x2="779.6" y2="170.0" stroke="#1a1a1a" stroke-width="0.85"/>
<line x1="744.5" y1="144.7" x2="794.5" y2="144.7" stroke="#1a1a1a" stroke-width="0.85"/>
<polygon points="760.4,144.7 756.2,143.4 750.4,143.6 750.4,145.8 756.2,146.0" fill="#1a1a1a"/>
<polygon points="779.6,144.7 783.8,143.4 789.6,143.6 789.6,145.8 783.8,146.0" fill="#1a1a1a"/>
<text x="769.9" y="142.5" font-size="10.5" text-anchor="middle" letter-spacing="0.7" fill="#111" stroke="#111" stroke-width="0.4">L6</text>
<path d="M649.1,405.2 L623.4,405.2 L622.4,406.2 L622.4,417.4 L623.4,418.4 L649.1,418.4" fill="none" stroke="#1a1a1a" stroke-width="1.5" stroke-linejoin="round"/>
<line x1="617.4" y1="411.8" x2="661.1" y2="411.8" stroke="#1a1a1a" stroke-width="0.6" stroke-dasharray="3 2"/>
<path d="M668.1999999999999,389.7 L652.6,391.40000000000003 Q650.6999999999999,391.90000000000003 650.5,395.1 L650.5,428.0 L652.4,431.7 L664.4,433.3 L664.4,442.1 L666.9,444.40000000000003 L666.9,446.6" fill="none" stroke="#1a1a1a" stroke-width="1.5" stroke-linejoin="round"/>
<path d="M668.1999999999999,432.40000000000003 L668.1999999999999,384.0 L704.1999999999999,384.0 L705.4,385.6 L706.6,385.6 L707.9,384.0 L727.3,384.0" fill="none" stroke="#1a1a1a" stroke-width="1.5" stroke-linejoin="round"/>
<circle cx="715.3" cy="377.2" r="7.8" fill="#fff" stroke="#1a1a1a" stroke-width="1.4"/>
<circle cx="715.3" cy="377.2" r="4.0" fill="none" stroke="#1a1a1a" stroke-width="0.9"/>
<line x1="706.1" y1="384.0" x2="706.1" y2="456.4" stroke="#1a1a1a" stroke-width="0.9"/>
<line x1="710.0" y1="384.0" x2="710.0" y2="456.4" stroke="#1a1a1a" stroke-width="0.9"/>
<line x1="722.7" y1="384.3" x2="722.7" y2="446.6" stroke="#1a1a1a" stroke-width="1.0"/>
<line x1="727.3" y1="384.3" x2="727.3" y2="446.6" stroke="#1a1a1a" stroke-width="1.1"/>
<line x1="668.2" y1="387.9" x2="706.1" y2="387.9" stroke="#555" stroke-width="0.5"/>
<line x1="693.2" y1="389.8" x2="693.2" y2="455.8" stroke="#555" stroke-width="0.6"/>
<path d="M666.9,446.6 L654.1,446.6 L654.1,456.5 L737.8,456.5 L737.8,446.6 L722.7,446.6" fill="none" stroke="#1a1a1a" stroke-width="1.5" stroke-linejoin="round"/>
<line x1="665.6" y1="427.8" x2="665.6" y2="444.4" stroke="#1a1a1a" stroke-width="1.0"/>
<line x1="667.6" y1="427.8" x2="667.6" y2="446.4" stroke="#1a1a1a" stroke-width="1.0"/>
<line x1="669.8" y1="415.4" x2="692.7" y2="415.4" stroke="#444" stroke-width="0.85"/>
<line x1="669.8" y1="419.0" x2="692.7" y2="419.0" stroke="#444" stroke-width="0.85"/>
<line x1="669.8" y1="422.8" x2="692.7" y2="422.8" stroke="#444" stroke-width="0.85"/>
<line x1="669.8" y1="426.8" x2="692.7" y2="426.8" stroke="#444" stroke-width="0.85"/>
<line x1="679.7" y1="431.2" x2="679.7" y2="443.2" stroke="#444" stroke-width="0.7"/>
<line x1="679.7" y1="431.2" x2="692.7" y2="431.2" stroke="#444" stroke-width="0.85"/>
<line x1="679.7" y1="435.3" x2="692.7" y2="435.3" stroke="#444" stroke-width="0.85"/>
<line x1="679.7" y1="439.4" x2="692.7" y2="439.4" stroke="#444" stroke-width="0.85"/>
<line x1="679.7" y1="443.2" x2="692.7" y2="443.2" stroke="#444" stroke-width="0.85"/>
<path d="M669.6,435.8 L673.1,432.3 L676.6,435.8 L673.1,439.3 Z" fill="none" stroke="#1a1a1a" stroke-width="0.7" stroke-linejoin="round"/>
<circle cx="673.1" cy="435.8" r="1.9" fill="none" stroke="#1a1a1a" stroke-width="0.6"/>
<circle cx="673.1" cy="435.8" r="0.5" fill="#333" stroke="#1a1a1a" stroke-width="0.5"/>
<path d="M727.3,385.8 L731.5,394.5 L747.8,400.7 L747.8,432.9 L731.5,439 L727.3,446.5" fill="#fff" stroke="#1a1a1a" stroke-width="1.5" stroke-linejoin="round"/>
<path d="M747.8,411.3 L752.5,411.3 L752.5,411.8 L768.8,411.8 L769.8,412.8 L769.8,419.5 L768.8,420.4 L752.5,420.4 L752.5,420.9 L747.8,420.9" fill="#fff" stroke="#1a1a1a" stroke-width="1.1" stroke-linejoin="round"/>
<line x1="720.0" y1="416.0" x2="776.0" y2="416.0" stroke="#1a1a1a" stroke-width="0.6" stroke-dasharray="3 2"/>
<line x1="722.7" y1="348.6" x2="722.7" y2="384.0" stroke="#1a1a1a" stroke-width="0.85"/>
<line x1="770.6" y1="348.6" x2="770.6" y2="412.0" stroke="#1a1a1a" stroke-width="0.85"/>
<line x1="722.7" y1="353.6" x2="770.6" y2="353.6" stroke="#1a1a1a" stroke-width="0.85"/>
<polygon points="722.7,353.6 726.9,352.3 732.7,352.5 732.7,354.7 726.9,354.9" fill="#1a1a1a"/>
<polygon points="770.6,353.6 766.4,352.3 760.6,352.5 760.6,354.7 766.4,354.9" fill="#1a1a1a"/>
<text x="747.0" y="350.4" font-size="10.5" text-anchor="middle" letter-spacing="0.7" fill="#111" stroke="#111" stroke-width="0.4">297</text>
<line x1="752.5" y1="364.7" x2="752.5" y2="411.5" stroke="#1a1a1a" stroke-width="0.85"/>
<line x1="737.6" y1="370.4" x2="770.6" y2="370.4" stroke="#1a1a1a" stroke-width="0.85"/>
<polygon points="752.5,370.4 748.3,369.1 742.5,369.3 742.5,371.5 748.3,371.7" fill="#1a1a1a"/>
<polygon points="770.6,370.4 766.8,369.1 761.6,369.3 761.6,371.5 766.8,371.7" fill="#1a1a1a"/>
<text x="760.6" y="367.7" font-size="10.5" text-anchor="middle" letter-spacing="0.7" fill="#111" stroke="#111" stroke-width="0.4">110</text>
<line x1="770.0" y1="411.3" x2="792.0" y2="411.3" stroke="#1a1a1a" stroke-width="0.85"/>
<line x1="770.0" y1="420.5" x2="792.0" y2="420.5" stroke="#1a1a1a" stroke-width="0.85"/>
<line x1="787.9" y1="398.0" x2="787.9" y2="434.5" stroke="#1a1a1a" stroke-width="0.85"/>
<polygon points="787.9,411.3 786.6,407.5 786.8,402.3 789.0,402.3 789.2,407.5" fill="#1a1a1a"/>
<polygon points="787.9,420.5 786.6,424.3 786.8,429.5 789.0,429.5 789.2,424.3" fill="#1a1a1a"/>
<text x="786.4" y="388.5" font-size="10.5" text-anchor="middle" letter-spacing="0.7" fill="#111" stroke="#111" stroke-width="0.4" transform="rotate(-90 786.4 388.5)">&#934;55m6</text>
<line x1="727.7" y1="383.8" x2="814.5" y2="383.8" stroke="#1a1a1a" stroke-width="0.85"/>
<line x1="737.6" y1="447.7" x2="814.5" y2="447.7" stroke="#1a1a1a" stroke-width="0.85"/>
<line x1="805.8" y1="383.8" x2="805.8" y2="447.7" stroke="#1a1a1a" stroke-width="0.85"/>
<polygon points="805.8,383.8 804.5,388.0 804.7,393.8 806.9,393.8 807.1,388.0" fill="#1a1a1a"/>
<polygon points="805.8,447.7 804.5,443.5 804.7,437.7 806.9,437.7 807.1,443.5" fill="#1a1a1a"/>
<text x="802.9" y="418.0" font-size="10.5" text-anchor="middle" letter-spacing="0.7" fill="#111" stroke="#111" stroke-width="0.4" transform="rotate(-90 802.9 418.0)">&#934;450</text>
<text x="780.8" y="463.8" font-size="10.5" text-anchor="start" letter-spacing="0.7" fill="#111" stroke="#111" stroke-width="0.4">M20</text>
<path d="M794.5,466.3 L779.4,466.3 L769.8,419.5" fill="none" stroke="#1a1a1a" stroke-width="0.85" stroke-linejoin="round"/>
<clipPath id="c783_505"><circle cx="783.6" cy="505.7" r="10.0"/></clipPath>
<g clip-path="url(#c783_505)" stroke="#1a1a1a" stroke-width="0.9"><line x1="754.6" y1="515.7" x2="774.6" y2="495.7"/><line x1="759.8" y1="515.7" x2="779.8" y2="495.7"/><line x1="765.0" y1="515.7" x2="785.0" y2="495.7"/><line x1="770.2" y1="515.7" x2="790.2" y2="495.7"/><line x1="775.4" y1="515.7" x2="795.4" y2="495.7"/><line x1="780.6" y1="515.7" x2="800.6" y2="495.7"/><line x1="785.8" y1="515.7" x2="805.8" y2="495.7"/><line x1="791.0" y1="515.7" x2="811.0" y2="495.7"/></g>
<circle cx="783.6" cy="505.7" r="10.0" fill="none" stroke="#1a1a1a" stroke-width="1.2"/>
<rect x="781.2" y="494.7" width="4.8" height="3.2" fill="#fff"/>
<path d="M781.2,496.0 L781.2,497.9 L786.0,497.9 L786.0,496.0" fill="none" stroke="#1a1a1a" stroke-width="1.0" stroke-linejoin="round"/>
<line x1="781.3" y1="479.0" x2="781.3" y2="497.0" stroke="#1a1a1a" stroke-width="0.85"/>
<line x1="786.1" y1="479.0" x2="786.1" y2="497.0" stroke="#1a1a1a" stroke-width="0.85"/>
<line x1="764.2" y1="484.9" x2="799.5" y2="484.9" stroke="#1a1a1a" stroke-width="0.85"/>
<polygon points="781.3,484.9 777.5,483.6 772.3,483.8 772.3,486.0 777.5,486.2" fill="#1a1a1a"/>
<polygon points="786.1,484.9 789.9,483.6 795.1,483.8 795.1,486.0 789.9,486.2" fill="#1a1a1a"/>
<text x="768.7" y="480.3" font-size="10.5" text-anchor="middle" letter-spacing="0.7" fill="#111" stroke="#111" stroke-width="0.4">16</text>
<line x1="787.0" y1="495.8" x2="816.0" y2="495.8" stroke="#1a1a1a" stroke-width="0.85"/>
<line x1="787.0" y1="515.6" x2="816.0" y2="515.6" stroke="#1a1a1a" stroke-width="0.85"/>
<line x1="810.6" y1="495.8" x2="810.6" y2="515.6" stroke="#1a1a1a" stroke-width="0.85"/>
<polygon points="810.6,495.8 809.3,499.4 809.5,504.3 811.7,504.3 811.9,499.4" fill="#1a1a1a"/>
<polygon points="810.6,515.6 809.3,512.0 809.5,507.1 811.7,507.1 811.9,512.0" fill="#1a1a1a"/>
<text x="807.0" y="505.6" font-size="10.5" text-anchor="middle" letter-spacing="0.7" fill="#111" stroke="#111" stroke-width="0.4" transform="rotate(-90 807.0 505.6)">59</text>
<path d="M648.5,645.1 L622.8,645.1 L621.8,646.1 L621.8,657.3 L622.8,658.3 L648.5,658.3" fill="none" stroke="#1a1a1a" stroke-width="1.5" stroke-linejoin="round"/>
<line x1="616.8" y1="651.7" x2="660.5" y2="651.7" stroke="#1a1a1a" stroke-width="0.6" stroke-dasharray="3 2"/>
<path d="M667.5999999999999,629.6 L652.0,631.3000000000001 Q650.0999999999999,631.8000000000001 649.9,635.0 L649.9,667.9000000000001 L651.8,671.6 L663.8,673.2 L663.8,682.0 L666.3,684.3000000000001 L666.3,686.5" fill="none" stroke="#1a1a1a" stroke-width="1.5" stroke-linejoin="round"/>
<path d="M667.5999999999999,672.3000000000001 L667.5999999999999,623.9000000000001 L703.5999999999999,623.9000000000001 L704.8,625.5 L706.0,625.5 L707.3,623.9000000000001 L726.6999999999999,623.9000000000001" fill="none" stroke="#1a1a1a" stroke-width="1.5" stroke-linejoin="round"/>
<circle cx="714.8" cy="617.1" r="7.8" fill="#fff" stroke="#1a1a1a" stroke-width="1.4"/>
<circle cx="714.8" cy="617.1" r="4.0" fill="none" stroke="#1a1a1a" stroke-width="0.9"/>
<line x1="705.5" y1="623.9" x2="705.5" y2="696.3" stroke="#1a1a1a" stroke-width="0.9"/>
<line x1="709.4" y1="623.9" x2="709.4" y2="696.3" stroke="#1a1a1a" stroke-width="0.9"/>
<line x1="722.1" y1="624.2" x2="722.1" y2="686.5" stroke="#1a1a1a" stroke-width="1.0"/>
<line x1="726.7" y1="624.2" x2="726.7" y2="686.5" stroke="#1a1a1a" stroke-width="1.1"/>
<line x1="667.6" y1="627.8" x2="705.5" y2="627.8" stroke="#555" stroke-width="0.5"/>
<line x1="692.6" y1="629.7" x2="692.6" y2="695.7" stroke="#555" stroke-width="0.6"/>
<path d="M666.3,686.5 L653.5,686.5 L653.5,696.4 L737.2,696.4 L737.2,686.5 L722.1,686.5" fill="none" stroke="#1a1a1a" stroke-width="1.5" stroke-linejoin="round"/>
<line x1="665.0" y1="667.7" x2="665.0" y2="684.3" stroke="#1a1a1a" stroke-width="1.0"/>
<line x1="667.0" y1="667.7" x2="667.0" y2="686.3" stroke="#1a1a1a" stroke-width="1.0"/>
<line x1="669.2" y1="655.3" x2="692.1" y2="655.3" stroke="#444" stroke-width="0.85"/>
<line x1="669.2" y1="658.9" x2="692.1" y2="658.9" stroke="#444" stroke-width="0.85"/>
<line x1="669.2" y1="662.7" x2="692.1" y2="662.7" stroke="#444" stroke-width="0.85"/>
<line x1="669.2" y1="666.7" x2="692.1" y2="666.7" stroke="#444" stroke-width="0.85"/>
<line x1="679.1" y1="671.1" x2="679.1" y2="683.1" stroke="#444" stroke-width="0.7"/>
<line x1="679.1" y1="671.1" x2="692.1" y2="671.1" stroke="#444" stroke-width="0.85"/>
<line x1="679.1" y1="675.2" x2="692.1" y2="675.2" stroke="#444" stroke-width="0.85"/>
<line x1="679.1" y1="679.3" x2="692.1" y2="679.3" stroke="#444" stroke-width="0.85"/>
<line x1="679.1" y1="683.1" x2="692.1" y2="683.1" stroke="#444" stroke-width="0.85"/>
<path d="M669.0,675.7 L672.5,672.2 L676.0,675.7 L672.5,679.2 Z" fill="none" stroke="#1a1a1a" stroke-width="0.7" stroke-linejoin="round"/>
<circle cx="672.5" cy="675.7" r="1.9" fill="none" stroke="#1a1a1a" stroke-width="0.6"/>
<circle cx="672.5" cy="675.7" r="0.5" fill="#333" stroke="#1a1a1a" stroke-width="0.5"/>
<path d="M726.8,637.0 L735.3,637.0 L735.3,669.5 L726.8,669.5" fill="#fff" stroke="#1a1a1a" stroke-width="0.9" stroke-linejoin="round"/>
<path d="M735.3,632.8 L753.6,632.8 L753.6,631.6 L771.9,631.6 L771.9,681.4 L753.6,681.4 L753.6,674.9 L735.3,674.9 Z" fill="#fff" stroke="#1a1a1a" stroke-width="1.5" stroke-linejoin="round"/>
<line x1="753.6" y1="632.8" x2="753.6" y2="674.9" stroke="#1a1a1a" stroke-width="0.7"/>
<line x1="756.4" y1="631.6" x2="756.4" y2="681.4" stroke="#1a1a1a" stroke-width="0.7"/>
<line x1="768.6" y1="631.6" x2="768.6" y2="681.4" stroke="#1a1a1a" stroke-width="0.7"/>
<circle cx="764.9" cy="627.7" r="4.8" fill="#fff" stroke="#1a1a1a" stroke-width="1.2"/>
<circle cx="764.9" cy="627.7" r="2.5" fill="none" stroke="#1a1a1a" stroke-width="0.8"/>
<line x1="737.0" y1="657.5" x2="753.0" y2="657.5" stroke="#555" stroke-width="0.5"/>
<line x1="737.0" y1="659.9" x2="753.0" y2="659.9" stroke="#555" stroke-width="0.5"/>
<line x1="737.0" y1="662.3" x2="753.0" y2="662.3" stroke="#555" stroke-width="0.5"/>
<line x1="737.0" y1="664.7" x2="753.0" y2="664.7" stroke="#555" stroke-width="0.5"/>
<line x1="737.0" y1="667.1" x2="753.0" y2="667.1" stroke="#555" stroke-width="0.5"/>
<line x1="737.0" y1="669.5" x2="753.0" y2="669.5" stroke="#555" stroke-width="0.5"/>
<line x1="737.0" y1="671.9" x2="753.0" y2="671.9" stroke="#555" stroke-width="0.5"/>
<rect x="736.4" y="663.6" width="6.2" height="6.4" fill="#fff" stroke="#1a1a1a" stroke-width="0.8"/>
<line x1="736.4" y1="666.8" x2="742.6" y2="666.8" stroke="#1a1a1a" stroke-width="0.6"/>
<line x1="739.5" y1="663.6" x2="739.5" y2="670.0" stroke="#1a1a1a" stroke-width="0.6"/>
<line x1="735.3" y1="651.0" x2="753.6" y2="651.0" stroke="#555" stroke-width="0.5"/>
<path d="M771.9,634.5 L774.7,634.5 L774.7,679.0 L771.9,679.0" fill="#fff" stroke="#1a1a1a" stroke-width="1.0" stroke-linejoin="round"/>
<path d="M774.7,642.5 L777.5,642.5 L782.9,638.3" fill="none" stroke="#1a1a1a" stroke-width="0.9" stroke-linejoin="round"/>
<path d="M774.7,666.8 L777.5,666.8 L782.9,670.8" fill="none" stroke="#1a1a1a" stroke-width="0.9" stroke-linejoin="round"/>
<path d="M782.9,637.6 L824.3,637.6 L829.4,642.8 L829.4,666.4 L824.3,671.4 L782.9,671.4 Z" fill="#fff" stroke="#1a1a1a" stroke-width="1.5" stroke-linejoin="round"/>
<line x1="816.4" y1="637.6" x2="816.4" y2="671.4" stroke="#1a1a1a" stroke-width="0.8"/>
<line x1="783.7" y1="646.5" x2="798.0" y2="646.5" stroke="#444" stroke-width="0.6"/>
<line x1="783.7" y1="649.0" x2="798.0" y2="649.0" stroke="#444" stroke-width="0.6"/>
<line x1="783.7" y1="651.5" x2="798.0" y2="651.5" stroke="#444" stroke-width="0.6"/>
<line x1="783.7" y1="657.3" x2="798.0" y2="657.3" stroke="#444" stroke-width="0.6"/>
<line x1="783.7" y1="659.8" x2="798.0" y2="659.8" stroke="#444" stroke-width="0.6"/>
<line x1="783.7" y1="662.3" x2="798.0" y2="662.3" stroke="#444" stroke-width="0.6"/>
<line x1="786.0" y1="639.4" x2="816.4" y2="639.4" stroke="#555" stroke-width="0.5"/>
<line x1="786.0" y1="669.6" x2="816.4" y2="669.6" stroke="#555" stroke-width="0.5"/>
<rect x="798.4" y="645.5" width="17.9" height="19.0" fill="#fff" stroke="#1a1a1a" stroke-width="0.8"/>
<line x1="700.0" y1="651.6" x2="757.0" y2="651.6" stroke="#555" stroke-width="0.6" stroke-dasharray="3 2"/>
<line x1="757.0" y1="654.5" x2="833.0" y2="654.5" stroke="#555" stroke-width="0.6" stroke-dasharray="3 2"/>
<line x1="722.0" y1="604.7" x2="722.0" y2="624.0" stroke="#1a1a1a" stroke-width="0.85"/>
<line x1="771.9" y1="604.7" x2="771.9" y2="632.0" stroke="#1a1a1a" stroke-width="0.85"/>
<line x1="829.6" y1="604.7" x2="829.6" y2="642.0" stroke="#1a1a1a" stroke-width="0.85"/>
<line x1="722.0" y1="608.9" x2="771.9" y2="608.9" stroke="#1a1a1a" stroke-width="0.85"/>
<polygon points="722.0,608.9 726.2,607.6 732.0,607.8 732.0,610.0 726.2,610.2" fill="#1a1a1a"/>
<polygon points="771.9,608.9 767.7,607.6 761.9,607.8 761.9,610.0 767.7,610.2" fill="#1a1a1a"/>
<line x1="771.9" y1="608.9" x2="829.6" y2="608.9" stroke="#1a1a1a" stroke-width="0.85"/>
<polygon points="771.9,608.9 776.1,607.6 781.9,607.8 781.9,610.0 776.1,610.2" fill="#1a1a1a"/>
<polygon points="829.6,608.9 825.4,607.6 819.6,607.8 819.6,610.0 825.4,610.2" fill="#1a1a1a"/>
<text x="748.6" y="606.3" font-size="10.5" text-anchor="middle" letter-spacing="0.7" fill="#111" stroke="#111" stroke-width="0.4">L</text>
<text x="801.3" y="606.3" font-size="10.5" text-anchor="middle" letter-spacing="0.7" fill="#111" stroke="#111" stroke-width="0.4">L3</text>
<line x1="826.0" y1="637.6" x2="853.0" y2="637.6" stroke="#1a1a1a" stroke-width="0.85"/>
<line x1="826.0" y1="671.5" x2="853.0" y2="671.5" stroke="#1a1a1a" stroke-width="0.85"/>
<line x1="848.0" y1="637.6" x2="848.0" y2="671.5" stroke="#1a1a1a" stroke-width="0.85"/>
<polygon points="848.0,637.6 846.7,641.2 846.9,646.1 849.1,646.1 849.3,641.2" fill="#1a1a1a"/>
<polygon points="848.0,671.5 846.7,667.9 846.9,663.0 849.1,663.0 849.3,667.9" fill="#1a1a1a"/>
<text x="844.8" y="654.5" font-size="10.5" text-anchor="middle" letter-spacing="0.7" fill="#111" stroke="#111" stroke-width="0.4" transform="rotate(-90 844.8 654.5)">G</text>
</svg>
<div class="t c" style="left:139.1px;top:1017.6px;font-size:12px;transform:translateX(-50%);">160M</div>
<div class="t c" style="left:139.1px;top:1045.7px;font-size:12px;transform:translateX(-50%);">11</div>
<div class="t c" style="left:139.1px;top:1102.0px;font-size:12px;transform:translateX(-50%);">330</div>
<div class="t c" style="left:195.4px;top:1017.6px;font-size:12px;transform:translateX(-50%);">160L</div>
<div class="t c" style="left:195.4px;top:1045.7px;font-size:12px;transform:translateX(-50%);">15</div>
<div class="t c" style="left:195.4px;top:1102.0px;font-size:12px;transform:translateX(-50%);">330</div>
<div class="t c" style="left:251.7px;top:1017.6px;font-size:12px;transform:translateX(-50%);">180M</div>
<div class="t c" style="left:251.7px;top:1045.7px;font-size:12px;transform:translateX(-50%);">18.5</div>
<div class="t c" style="left:251.7px;top:1102.0px;font-size:12px;transform:translateX(-50%);">380</div>
<div class="t c" style="left:308.0px;top:1017.6px;font-size:12px;transform:translateX(-50%);">180L</div>
<div class="t c" style="left:308.0px;top:1045.7px;font-size:12px;transform:translateX(-50%);">22</div>
<div class="t c" style="left:308.0px;top:1102.0px;font-size:12px;transform:translateX(-50%);">380</div>
<div class="t c" style="left:364.3px;top:1017.6px;font-size:12px;transform:translateX(-50%);">200</div>
<div class="t c" style="left:364.3px;top:1045.7px;font-size:12px;transform:translateX(-50%);">30</div>
<div class="t c" style="left:364.3px;top:1102.0px;font-size:12px;transform:translateX(-50%);">420</div>
<div class="t c" style="left:420.6px;top:1017.6px;font-size:12px;transform:translateX(-50%);">225S</div>
<div class="t c" style="left:420.6px;top:1045.7px;font-size:12px;transform:translateX(-50%);">37</div>
<div class="t c" style="left:420.6px;top:1102.0px;font-size:12px;transform:translateX(-50%);">470</div>
<div class="t c" style="left:476.9px;top:1017.6px;font-size:12px;transform:translateX(-50%);">225M</div>
<div class="t c" style="left:476.9px;top:1045.7px;font-size:12px;transform:translateX(-50%);">45</div>
<div class="t c" style="left:476.9px;top:1102.0px;font-size:12px;transform:translateX(-50%);">470</div>
<div class="t c" style="left:533.2px;top:1017.6px;font-size:12px;transform:translateX(-50%);">250</div>
<div class="t c" style="left:533.2px;top:1045.7px;font-size:12px;transform:translateX(-50%);">55</div>
<div class="t c" style="left:533.2px;top:1102.0px;font-size:12px;transform:translateX(-50%);">510</div>
<div class="t c" style="left:589.5px;top:1017.6px;font-size:12px;transform:translateX(-50%);">280S</div>
<div class="t c" style="left:589.5px;top:1045.7px;font-size:12px;transform:translateX(-50%);">75</div>
<div class="t c" style="left:589.5px;top:1102.0px;font-size:12px;transform:translateX(-50%);">580</div>
<div class="t c" style="left:645.8px;top:1017.6px;font-size:12px;transform:translateX(-50%);">280M</div>
<div class="t c" style="left:645.8px;top:1045.7px;font-size:12px;transform:translateX(-50%);">90</div>
<div class="t c" style="left:645.8px;top:1102.0px;font-size:12px;transform:translateX(-50%);">580</div>
<div class="t c" style="left:66.0px;top:1074.1px;font-size:12px;transform:translateX(-50%);">L3</div>
<div class="t c" style="left:66.0px;top:1102.2px;font-size:12px;transform:translateX(-50%);">G</div>
<div class="t c" style="left:66.0px;top:1130.4px;font-size:12px;transform:translateX(-50%);">L6</div>
<div class="t n" style="left:33.6px;top:1014.8px;font-size:10px;">Y</div>
<div class="t n" style="left:40.6px;top:1018.1px;font-size:6.5px;">2</div>
<div class="t n" style="left:66.2px;top:1025.1px;font-size:10px;transform:translateX(-50%);letter-spacing:0.85px;">Motor size</div>
<div class="t n" style="left:68.7px;top:1043.0px;font-size:10px;">/4P</div>
<div class="t n" style="left:65.8px;top:1052.4px;font-size:10px;transform:translateX(-50%);letter-spacing:0.85px;">Power/(kw)</div>
<div class="t c" style="left:151.4px;top:1074.1px;font-size:12px;">163</div>
<div class="t c" style="left:203.0px;top:1074.1px;font-size:12px;">see page 163</div>
<div class="t c" style="left:151.4px;top:1130.4px;font-size:12px;">61</div>
<div class="t c" style="left:203.0px;top:1130.4px;font-size:12px;">see page 61</div>
<div class="t n" style="left:20.6px;top:1168.1px;font-size:15px;letter-spacing:0.3px;">59</div>
<div class="t h" style="left:48.2px;top:63.0px;font-size:14px;letter-spacing:1.5px;">R147</div>
<div class="t h" style="left:48.2px;top:332.1px;font-size:14px;letter-spacing:1.1px;">RF147</div>
<div class="t h" style="left:102.6px;top:429.7px;font-size:14px;letter-spacing:1.4px;">&#934;450</div>
<div class="t h" style="left:102.6px;top:727.1px;font-size:14px;letter-spacing:1.4px;">&#934;550</div>
<div class="t h" style="left:610.4px;top:308.1px;font-size:14px;letter-spacing:1.15px;">R..S147</div>
<div class="t h" style="left:610.4px;top:557.5px;font-size:14px;letter-spacing:1.27px;">R..147/R87(R77)</div>
<div class="t n" style="left:606.0px;top:95.1px;font-size:10px;">When equipping the user's motor or the special</div>
<div class="t n" style="left:606.0px;top:106.1px;font-size:10px;">one, the flange is required to connected.</div>
<div class="t c" style="left:604.2px;top:760.1px;font-size:12px;transform:translateX(-50%);">L</div>
<div class="t c" style="left:682.4px;top:760.1px;font-size:12px;transform:translateX(-50%);letter-spacing:0.85px;">220</div>
<div class="t c" style="left:804.8px;top:760.1px;font-size:12px;transform:translateX(-50%);letter-spacing:0.85px;">272</div>
<div class="t c" style="left:637.3px;top:740.6px;font-size:12px;letter-spacing:0.85px;">R..147R77</div>
<div class="t c" style="left:759.9px;top:740.6px;font-size:12px;letter-spacing:0.85px;">R..147R87</div>
<div class="t n" style="left:648.4px;top:802.9px;font-size:10px;">Note: For other values please</div>
<div class="t n" style="left:648.4px;top:817.7px;font-size:10px;">refer to the opposited structure</div>
</body></html>
